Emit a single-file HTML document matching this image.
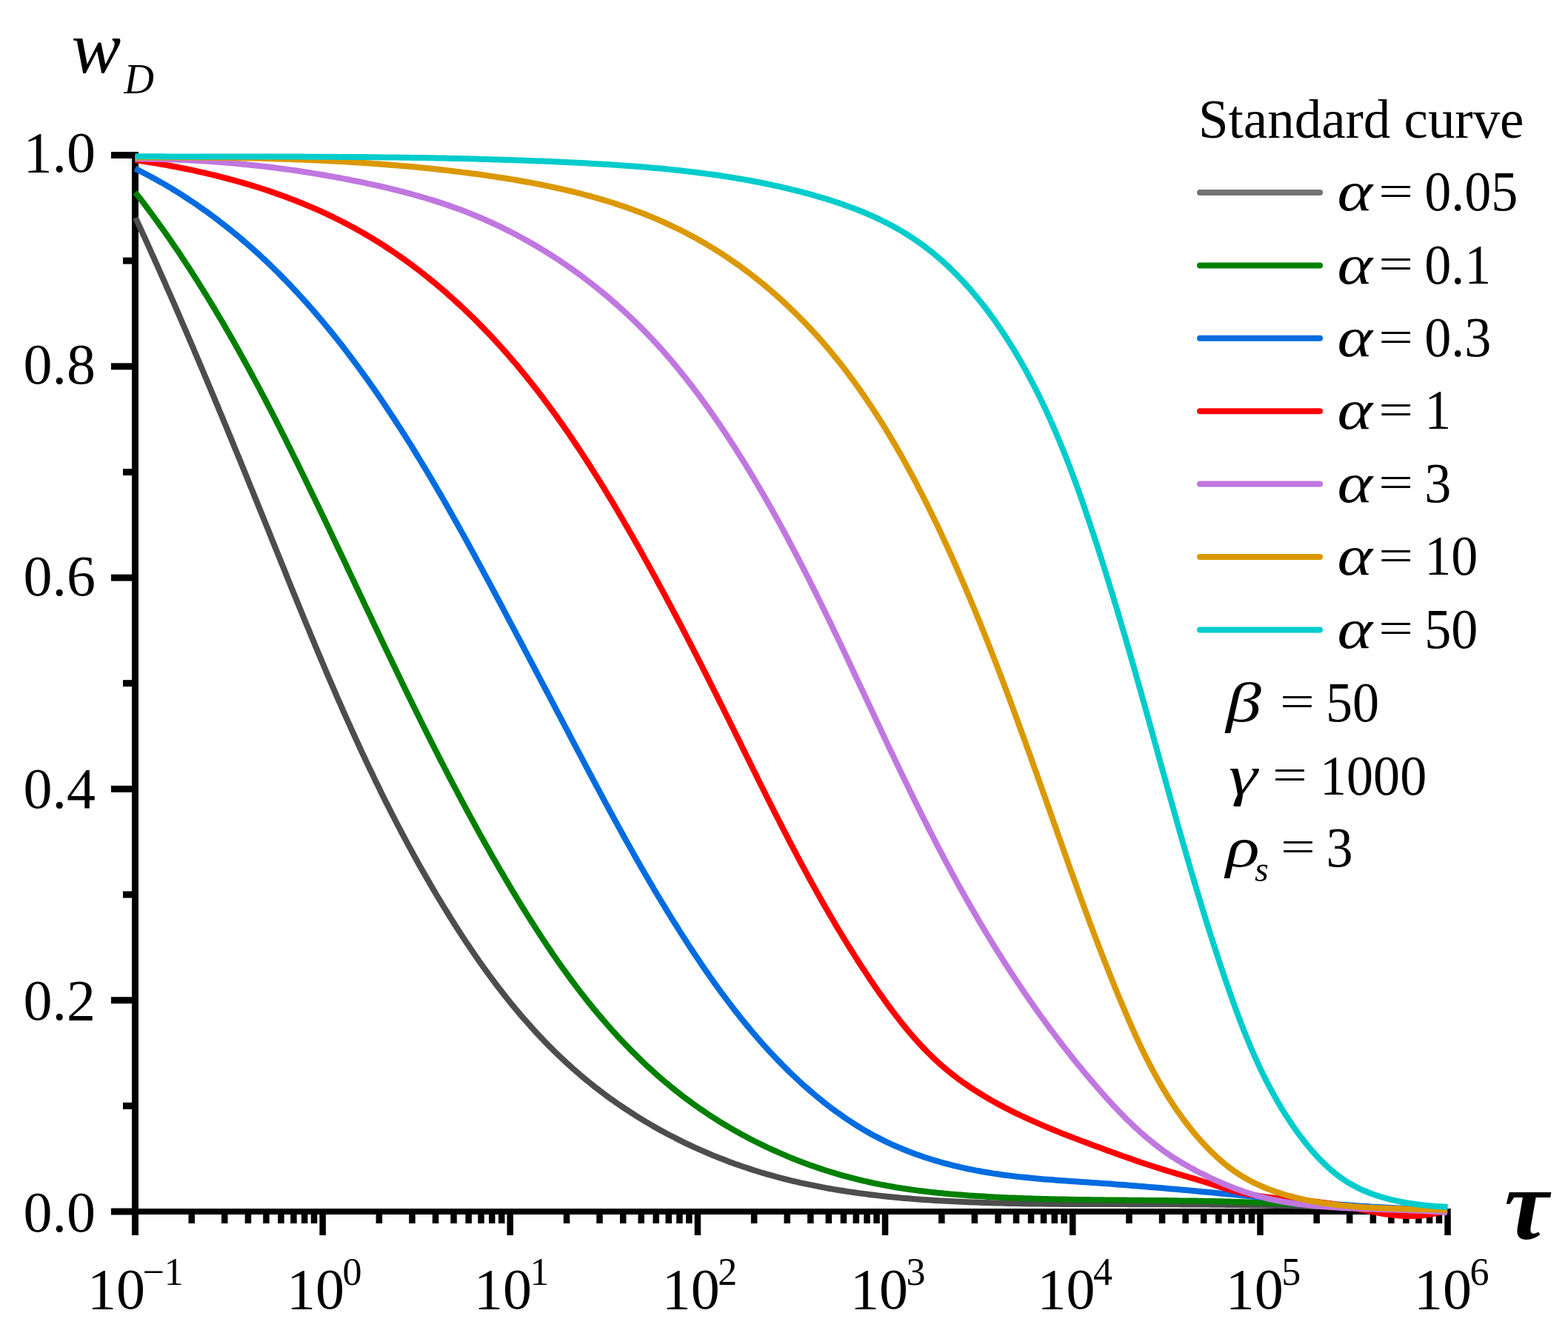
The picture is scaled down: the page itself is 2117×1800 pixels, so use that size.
<!DOCTYPE html>
<html><head><meta charset="utf-8"><title>Standard curve</title>
<style>
html,body{margin:0;padding:0;background:#fff;}
body{width:2117px;height:1800px;overflow:hidden;}
svg{display:block;}
text{font-family:"Liberation Serif","Times New Roman",serif;fill:#000;}
.it{font-style:italic;}
</style></head><body>
<svg xmlns="http://www.w3.org/2000/svg" width="2117" height="1800" viewBox="0 0 2117 1800">
<rect width="2117" height="1800" fill="#fff"/>
<g fill="#000">
<rect x="178" y="205" width="9" height="1463"/>
<rect x="150" y="1632" width="1808.7" height="8"/>
<rect x="150" y="1631.5" width="28" height="9"/>
<rect x="166" y="1488.8" width="12" height="9"/>
<rect x="150" y="1346.2" width="28" height="9"/>
<rect x="166" y="1203.5" width="12" height="9"/>
<rect x="150" y="1060.9" width="28" height="9"/>
<rect x="166" y="918.2" width="12" height="9"/>
<rect x="150" y="775.6" width="28" height="9"/>
<rect x="166" y="633.0" width="12" height="9"/>
<rect x="150" y="490.3" width="28" height="9"/>
<rect x="166" y="347.6" width="12" height="9"/>
<rect x="150" y="205.0" width="28" height="9"/>
<rect x="178.2" y="1640" width="8.5" height="28"/>
<rect x="254.5" y="1640" width="8.5" height="12"/>
<rect x="299.0" y="1640" width="8.5" height="12"/>
<rect x="330.7" y="1640" width="8.5" height="12"/>
<rect x="355.2" y="1640" width="8.5" height="12"/>
<rect x="375.2" y="1640" width="8.5" height="12"/>
<rect x="392.2" y="1640" width="8.5" height="12"/>
<rect x="406.9" y="1640" width="8.5" height="12"/>
<rect x="419.8" y="1640" width="8.5" height="12"/>
<rect x="431.4" y="1640" width="8.5" height="28"/>
<rect x="507.6" y="1640" width="8.5" height="12"/>
<rect x="552.2" y="1640" width="8.5" height="12"/>
<rect x="583.8" y="1640" width="8.5" height="12"/>
<rect x="608.3" y="1640" width="8.5" height="12"/>
<rect x="628.4" y="1640" width="8.5" height="12"/>
<rect x="645.3" y="1640" width="8.5" height="12"/>
<rect x="660.0" y="1640" width="8.5" height="12"/>
<rect x="673.0" y="1640" width="8.5" height="12"/>
<rect x="684.5" y="1640" width="8.5" height="28"/>
<rect x="760.8" y="1640" width="8.5" height="12"/>
<rect x="805.3" y="1640" width="8.5" height="12"/>
<rect x="837.0" y="1640" width="8.5" height="12"/>
<rect x="861.5" y="1640" width="8.5" height="12"/>
<rect x="881.5" y="1640" width="8.5" height="12"/>
<rect x="898.5" y="1640" width="8.5" height="12"/>
<rect x="913.2" y="1640" width="8.5" height="12"/>
<rect x="926.1" y="1640" width="8.5" height="12"/>
<rect x="937.7" y="1640" width="8.5" height="28"/>
<rect x="1013.9" y="1640" width="8.5" height="12"/>
<rect x="1058.5" y="1640" width="8.5" height="12"/>
<rect x="1090.1" y="1640" width="8.5" height="12"/>
<rect x="1114.6" y="1640" width="8.5" height="12"/>
<rect x="1134.7" y="1640" width="8.5" height="12"/>
<rect x="1151.6" y="1640" width="8.5" height="12"/>
<rect x="1166.3" y="1640" width="8.5" height="12"/>
<rect x="1179.3" y="1640" width="8.5" height="12"/>
<rect x="1190.8" y="1640" width="8.5" height="28"/>
<rect x="1267.1" y="1640" width="8.5" height="12"/>
<rect x="1311.6" y="1640" width="8.5" height="12"/>
<rect x="1343.3" y="1640" width="8.5" height="12"/>
<rect x="1367.8" y="1640" width="8.5" height="12"/>
<rect x="1387.8" y="1640" width="8.5" height="12"/>
<rect x="1404.8" y="1640" width="8.5" height="12"/>
<rect x="1419.5" y="1640" width="8.5" height="12"/>
<rect x="1432.4" y="1640" width="8.5" height="12"/>
<rect x="1444.0" y="1640" width="8.5" height="28"/>
<rect x="1520.2" y="1640" width="8.5" height="12"/>
<rect x="1564.8" y="1640" width="8.5" height="12"/>
<rect x="1596.4" y="1640" width="8.5" height="12"/>
<rect x="1620.9" y="1640" width="8.5" height="12"/>
<rect x="1641.0" y="1640" width="8.5" height="12"/>
<rect x="1657.9" y="1640" width="8.5" height="12"/>
<rect x="1672.6" y="1640" width="8.5" height="12"/>
<rect x="1685.6" y="1640" width="8.5" height="12"/>
<rect x="1697.2" y="1640" width="8.5" height="28"/>
<rect x="1773.4" y="1640" width="8.5" height="12"/>
<rect x="1817.9" y="1640" width="8.5" height="12"/>
<rect x="1849.6" y="1640" width="8.5" height="12"/>
<rect x="1874.1" y="1640" width="8.5" height="12"/>
<rect x="1894.1" y="1640" width="8.5" height="12"/>
<rect x="1911.1" y="1640" width="8.5" height="12"/>
<rect x="1925.8" y="1640" width="8.5" height="12"/>
<rect x="1938.7" y="1640" width="8.5" height="12"/>
<rect x="1950.3" y="1640" width="8.5" height="28"/>
</g>
<g fill="none" stroke-width="8" stroke-linejoin="round" stroke-linecap="butt">
<path stroke="#4d4d4d" d="M183.0,294.0 L185.1,298.6 L187.2,303.2 L189.3,307.7 L191.4,312.3 L193.5,316.9 L195.6,321.5 L197.7,326.2 L199.8,330.8 L201.9,335.4 L203.9,340.0 L206.0,344.6 L208.1,349.2 L210.1,353.8 L212.2,358.4 L214.3,363.0 L216.3,367.7 L218.4,372.3 L220.4,376.9 L222.5,381.5 L224.5,386.2 L226.5,390.8 L228.6,395.4 L230.6,400.0 L232.6,404.7 L234.7,409.3 L236.7,413.9 L238.7,418.6 L240.7,423.2 L242.7,427.8 L244.7,432.5 L246.7,437.1 L248.7,441.8 L250.7,446.4 L252.7,451.0 L254.7,455.7 L256.7,460.3 L258.7,465.0 L260.7,469.6 L262.6,474.3 L264.6,478.9 L266.6,483.6 L268.6,488.2 L270.5,492.9 L272.5,497.5 L274.5,502.2 L276.4,506.9 L278.4,511.5 L280.3,516.2 L282.3,520.8 L284.3,525.5 L286.2,530.2 L288.2,534.8 L290.1,539.5 L292.0,544.2 L294.0,548.8 L295.9,553.5 L297.9,558.2 L299.8,562.8 L301.7,567.5 L303.7,572.2 L305.6,576.8 L307.5,581.5 L309.4,586.2 L311.4,590.9 L313.3,595.5 L315.2,600.2 L317.1,604.9 L319.0,609.6 L320.9,614.2 L322.9,618.9 L324.8,623.6 L326.7,628.3 L328.6,633.0 L330.5,637.6 L332.4,642.3 L334.3,647.0 L336.2,651.7 L338.1,656.4 L340.0,661.0 L341.9,665.7 L343.8,670.4 L345.7,675.1 L347.6,679.8 L349.5,684.5 L351.4,689.1 L353.3,693.8 L355.2,698.5 L357.1,703.2 L359.0,707.9 L360.9,712.6 L362.8,717.3 L364.7,722.0 L366.5,726.6 L368.4,731.3 L370.3,736.0 L372.2,740.7 L374.1,745.4 L376.0,750.1 L377.9,754.8 L379.8,759.5 L381.7,764.2 L383.6,768.8 L385.5,773.5 L387.3,778.2 L389.2,782.9 L391.1,787.6 L393.0,792.3 L394.9,797.0 L396.8,801.6 L398.7,806.3 L400.6,811.0 L402.6,815.7 L404.5,820.4 L406.4,825.0 L408.3,829.7 L410.2,834.4 L412.1,839.1 L414.0,843.7 L416.0,848.4 L417.9,853.1 L419.8,857.8 L421.8,862.4 L423.7,867.1 L425.6,871.8 L427.6,876.4 L429.5,881.1 L431.5,885.7 L433.5,890.4 L435.4,895.0 L437.4,899.7 L439.4,904.4 L441.3,909.0 L443.3,913.6 L445.3,918.3 L447.3,922.9 L449.3,927.6 L451.3,932.2 L453.3,936.8 L455.3,941.5 L457.3,946.1 L459.4,950.7 L461.4,955.4 L463.4,960.0 L465.5,964.6 L467.5,969.2 L469.6,973.8 L471.7,978.4 L473.7,983.0 L475.8,987.6 L477.9,992.2 L480.0,996.8 L482.1,1001.4 L484.2,1006.0 L486.3,1010.6 L488.4,1015.2 L490.6,1019.8 L492.7,1024.3 L494.9,1028.9 L497.0,1033.5 L499.2,1038.0 L501.4,1042.6 L503.6,1047.1 L505.7,1051.7 L507.9,1056.2 L510.2,1060.8 L512.4,1065.3 L514.6,1069.9 L516.8,1074.4 L519.1,1078.9 L521.3,1083.4 L523.6,1087.9 L525.9,1092.5 L528.2,1097.0 L530.5,1101.5 L532.8,1106.0 L535.1,1110.5 L537.4,1114.9 L539.8,1119.4 L542.1,1123.9 L544.5,1128.4 L546.9,1132.8 L549.3,1137.3 L551.7,1141.8 L554.1,1146.2 L556.5,1150.7 L558.9,1155.1 L561.4,1159.5 L563.8,1164.0 L566.3,1168.4 L568.8,1172.8 L571.3,1177.2 L573.8,1181.6 L576.3,1186.0 L578.9,1190.4 L581.4,1194.8 L584.0,1199.2 L586.6,1203.6 L589.1,1207.9 L591.7,1212.3 L594.4,1216.7 L597.0,1221.0 L599.6,1225.3 L602.3,1229.7 L605.0,1234.0 L607.7,1238.3 L610.4,1242.7 L613.1,1247.0 L615.8,1251.3 L618.6,1255.5 L621.3,1259.8 L624.1,1264.1 L626.9,1268.4 L629.7,1272.6 L632.6,1276.8 L635.4,1281.1 L638.3,1285.3 L641.2,1289.5 L644.1,1293.7 L647.0,1297.9 L649.9,1302.0 L652.9,1306.2 L655.8,1310.3 L658.8,1314.4 L661.8,1318.5 L664.9,1322.6 L667.9,1326.7 L671.0,1330.7 L674.1,1334.8 L677.2,1338.8 L680.3,1342.8 L683.4,1346.8 L686.6,1350.7 L689.8,1354.7 L693.0,1358.6 L696.2,1362.5 L699.5,1366.4 L702.8,1370.3 L706.0,1374.1 L709.4,1377.9 L712.7,1381.7 L716.1,1385.5 L719.4,1389.2 L722.8,1393.0 L726.3,1396.7 L729.7,1400.4 L733.2,1404.0 L736.7,1407.7 L740.2,1411.3 L743.8,1414.8 L747.3,1418.4 L750.9,1421.9 L754.6,1425.4 L758.2,1428.9 L761.9,1432.3 L765.6,1435.8 L769.3,1439.1 L773.0,1442.5 L776.8,1445.8 L780.6,1449.1 L784.4,1452.4 L788.3,1455.6 L792.2,1458.8 L796.1,1462.0 L800.0,1465.2 L803.9,1468.3 L807.9,1471.3 L811.9,1474.4 L815.9,1477.4 L820.0,1480.4 L824.1,1483.4 L828.2,1486.3 L832.3,1489.2 L836.4,1492.0 L840.6,1494.9 L844.8,1497.7 L849.0,1500.4 L853.2,1503.2 L857.5,1505.9 L861.7,1508.6 L866.0,1511.2 L870.3,1513.8 L874.7,1516.4 L879.0,1518.9 L883.4,1521.4 L887.8,1523.9 L892.2,1526.4 L896.6,1528.8 L901.0,1531.2 L905.5,1533.5 L910.0,1535.8 L914.5,1538.1 L919.0,1540.4 L923.5,1542.6 L928.1,1544.8 L932.6,1546.9 L937.2,1549.1 L941.8,1551.1 L946.4,1553.2 L951.0,1555.2 L955.7,1557.2 L960.3,1559.2 L965.0,1561.1 L969.7,1563.0 L974.4,1564.8 L979.1,1566.6 L983.8,1568.4 L988.5,1570.2 L993.3,1571.9 L998.1,1573.6 L1002.8,1575.2 L1007.6,1576.8 L1012.4,1578.4 L1017.2,1580.0 L1022.0,1581.5 L1026.8,1583.0 L1031.7,1584.4 L1036.5,1585.8 L1041.4,1587.2 L1046.2,1588.5 L1051.1,1589.9 L1056.0,1591.1 L1060.9,1592.4 L1065.8,1593.6 L1070.7,1594.8 L1075.6,1595.9 L1080.5,1597.1 L1085.4,1598.1 L1090.4,1599.2 L1095.3,1600.2 L1100.3,1601.2 L1105.2,1602.2 L1110.2,1603.2 L1115.2,1604.1 L1120.2,1605.0 L1125.1,1605.9 L1130.1,1606.7 L1135.1,1607.5 L1140.1,1608.3 L1145.2,1609.1 L1150.2,1609.8 L1155.2,1610.5 L1160.2,1611.2 L1165.2,1611.9 L1170.3,1612.5 L1175.3,1613.2 L1180.4,1613.8 L1185.4,1614.4 L1190.5,1614.9 L1195.5,1615.5 L1200.6,1616.0 L1205.6,1616.5 L1210.7,1617.0 L1215.8,1617.5 L1220.8,1617.9 L1225.9,1618.3 L1231.0,1618.8 L1236.1,1619.2 L1241.1,1619.5 L1246.2,1619.9 L1251.3,1620.2 L1256.4,1620.6 L1261.5,1620.9 L1266.6,1621.2 L1271.6,1621.5 L1276.7,1621.8 L1281.8,1622.0 L1286.9,1622.3 L1292.0,1622.5 L1297.1,1622.8 L1302.2,1623.0 L1307.3,1623.2 L1312.3,1623.4 L1317.4,1623.6 L1322.5,1623.8 L1327.6,1623.9 L1332.7,1624.1 L1337.8,1624.2 L1342.8,1624.4 L1347.9,1624.5 L1353.0,1624.6 L1358.1,1624.8 L1363.1,1624.9 L1368.2,1625.0 L1373.3,1625.1 L1378.3,1625.2 L1383.4,1625.3 L1388.5,1625.4 L1393.5,1625.4 L1398.6,1625.5 L1403.7,1625.6 L1408.7,1625.6 L1413.8,1625.7 L1418.8,1625.7 L1423.9,1625.8 L1429.0,1625.8 L1434.0,1625.9 L1439.1,1625.9 L1444.1,1625.9 L1449.2,1626.0 L1454.2,1626.0 L1459.3,1626.0 L1464.3,1626.0 L1469.4,1626.1 L1474.4,1626.1 L1479.5,1626.1 L1484.5,1626.1 L1489.6,1626.1 L1494.6,1626.1 L1499.7,1626.1 L1504.7,1626.1 L1509.8,1626.1 L1514.8,1626.1 L1519.8,1626.1 L1524.9,1626.2 L1529.9,1626.2 L1535.0,1626.2 L1540.0,1626.2 L1545.0,1626.2 L1550.1,1626.2 L1555.1,1626.2 L1560.2,1626.2 L1565.2,1626.2 L1570.2,1626.2 L1575.3,1626.3 L1580.3,1626.3 L1585.4,1626.3 L1590.4,1626.3 L1595.4,1626.4 L1600.5,1626.4 L1605.5,1626.4 L1610.6,1626.5 L1615.6,1626.5 L1620.6,1626.5 L1625.7,1626.6 L1630.7,1626.6 L1635.8,1626.7 L1640.8,1626.7 L1645.8,1626.8 L1650.9,1626.8 L1655.9,1626.9 L1660.9,1627.0 L1666.0,1627.0 L1671.0,1627.1 L1676.1,1627.2 L1681.1,1627.2 L1686.1,1627.3 L1691.2,1627.4 L1696.2,1627.5 L1701.3,1627.5 L1706.3,1627.6 L1711.3,1627.7 L1716.4,1627.8 L1721.4,1627.9 L1726.5,1628.0 L1731.5,1628.1 L1736.6,1628.2 L1741.6,1628.3 L1746.6,1628.4 L1751.7,1628.5 L1756.7,1628.6 L1761.8,1628.7 L1766.8,1628.8 L1771.9,1628.9 L1776.9,1629.0 L1782.0,1629.1 L1787.0,1629.3 L1792.1,1629.4 L1797.1,1629.5 L1802.2,1629.6 L1807.2,1629.7 L1812.3,1629.9 L1817.3,1630.0 L1822.4,1630.1 L1827.4,1630.3 L1832.5,1630.4 L1837.5,1630.5 L1842.6,1630.7 L1847.6,1630.8 L1852.7,1631.0 L1857.8,1631.1 L1862.8,1631.3 L1867.9,1631.4 L1872.9,1631.6 L1878.0,1631.7 L1883.1,1631.9 L1888.1,1632.0 L1893.2,1632.2 L1898.3,1632.4 L1903.3,1632.5 L1908.4,1632.7 L1913.5,1632.9 L1918.5,1633.0 L1923.6,1633.2 L1928.7,1633.4 L1933.8,1633.5 L1938.8,1633.7 L1943.9,1633.9 L1949.0,1634.1 L1954.1,1634.2"/>
<path stroke="#008000" d="M182.5,259.5 L185.6,263.4 L188.7,267.4 L191.7,271.4 L194.7,275.4 L197.7,279.4 L200.7,283.4 L203.7,287.4 L206.7,291.5 L209.6,295.5 L212.6,299.6 L215.5,303.7 L218.4,307.7 L221.3,311.8 L224.2,315.9 L227.1,320.0 L229.9,324.1 L232.7,328.2 L235.6,332.4 L238.4,336.5 L241.2,340.6 L244.0,344.8 L246.7,349.0 L249.5,353.1 L252.2,357.3 L255.0,361.5 L257.7,365.7 L260.4,369.9 L263.1,374.1 L265.8,378.3 L268.4,382.5 L271.1,386.8 L273.7,391.0 L276.4,395.3 L279.0,399.5 L281.6,403.8 L284.2,408.1 L286.8,412.3 L289.4,416.6 L291.9,420.9 L294.5,425.2 L297.0,429.5 L299.6,433.8 L302.1,438.1 L304.6,442.5 L307.1,446.8 L309.6,451.1 L312.1,455.5 L314.6,459.8 L317.1,464.2 L319.5,468.5 L322.0,472.9 L324.4,477.2 L326.8,481.6 L329.2,486.0 L331.7,490.4 L334.1,494.8 L336.5,499.2 L338.8,503.6 L341.2,508.0 L343.6,512.4 L346.0,516.8 L348.3,521.2 L350.7,525.6 L353.0,530.1 L355.3,534.5 L357.7,538.9 L360.0,543.4 L362.3,547.8 L364.6,552.3 L366.9,556.7 L369.2,561.2 L371.5,565.6 L373.7,570.1 L376.0,574.5 L378.3,579.0 L380.5,583.5 L382.8,588.0 L385.1,592.4 L387.3,596.9 L389.5,601.4 L391.8,605.9 L394.0,610.4 L396.2,614.9 L398.4,619.4 L400.7,623.9 L402.9,628.4 L405.1,632.9 L407.3,637.4 L409.5,641.9 L411.7,646.4 L413.9,650.9 L416.0,655.4 L418.2,659.9 L420.4,664.4 L422.6,668.9 L424.7,673.4 L426.9,677.9 L429.1,682.5 L431.2,687.0 L433.4,691.5 L435.6,696.0 L437.7,700.5 L439.9,705.1 L442.0,709.6 L444.2,714.1 L446.3,718.6 L448.5,723.1 L450.6,727.7 L452.8,732.2 L454.9,736.7 L457.0,741.2 L459.2,745.8 L461.3,750.3 L463.5,754.8 L465.6,759.3 L467.7,763.8 L469.9,768.4 L472.0,772.9 L474.1,777.4 L476.3,781.9 L478.4,786.5 L480.5,791.0 L482.7,795.5 L484.8,800.0 L486.9,804.5 L489.1,809.1 L491.2,813.6 L493.3,818.1 L495.5,822.6 L497.6,827.1 L499.8,831.6 L501.9,836.2 L504.0,840.7 L506.2,845.2 L508.3,849.7 L510.5,854.2 L512.6,858.7 L514.7,863.2 L516.9,867.7 L519.0,872.3 L521.2,876.8 L523.4,881.3 L525.5,885.8 L527.7,890.3 L529.8,894.8 L532.0,899.3 L534.2,903.8 L536.3,908.3 L538.5,912.8 L540.7,917.3 L542.8,921.8 L545.0,926.3 L547.2,930.7 L549.4,935.2 L551.6,939.7 L553.8,944.2 L556.0,948.7 L558.2,953.2 L560.4,957.7 L562.6,962.1 L564.8,966.6 L567.0,971.1 L569.2,975.6 L571.4,980.0 L573.7,984.5 L575.9,989.0 L578.1,993.4 L580.4,997.9 L582.6,1002.4 L584.9,1006.8 L587.1,1011.3 L589.4,1015.7 L591.7,1020.2 L593.9,1024.6 L596.2,1029.1 L598.5,1033.5 L600.8,1038.0 L603.1,1042.4 L605.4,1046.9 L607.7,1051.3 L610.0,1055.7 L612.3,1060.2 L614.7,1064.6 L617.0,1069.0 L619.3,1073.4 L621.7,1077.9 L624.0,1082.3 L626.4,1086.7 L628.7,1091.1 L631.1,1095.5 L633.5,1099.9 L635.9,1104.3 L638.3,1108.7 L640.7,1113.1 L643.1,1117.5 L645.5,1121.9 L647.9,1126.3 L650.4,1130.7 L652.8,1135.0 L655.3,1139.4 L657.7,1143.8 L660.2,1148.1 L662.6,1152.5 L665.1,1156.9 L667.6,1161.2 L670.1,1165.6 L672.6,1169.9 L675.1,1174.3 L677.7,1178.6 L680.2,1183.0 L682.7,1187.3 L685.3,1191.6 L687.9,1196.0 L690.4,1200.3 L693.0,1204.6 L695.6,1208.9 L698.2,1213.2 L700.8,1217.5 L703.5,1221.8 L706.1,1226.1 L708.8,1230.4 L711.4,1234.7 L714.1,1238.9 L716.8,1243.2 L719.5,1247.4 L722.2,1251.7 L724.9,1255.9 L727.7,1260.1 L730.4,1264.4 L733.2,1268.6 L736.0,1272.7 L738.7,1276.9 L741.6,1281.1 L744.4,1285.3 L747.2,1289.4 L750.1,1293.5 L752.9,1297.7 L755.8,1301.8 L758.7,1305.9 L761.7,1309.9 L764.6,1314.0 L767.6,1318.1 L770.5,1322.1 L773.5,1326.1 L776.5,1330.1 L779.5,1334.1 L782.6,1338.1 L785.6,1342.1 L788.7,1346.0 L791.8,1349.9 L794.9,1353.9 L798.1,1357.8 L801.2,1361.6 L804.4,1365.5 L807.6,1369.3 L810.8,1373.1 L814.1,1376.9 L817.3,1380.7 L820.6,1384.5 L823.9,1388.2 L827.2,1392.0 L830.6,1395.6 L833.9,1399.3 L837.3,1403.0 L840.7,1406.6 L844.2,1410.2 L847.6,1413.8 L851.1,1417.4 L854.6,1420.9 L858.2,1424.4 L861.7,1427.9 L865.3,1431.4 L868.9,1434.9 L872.5,1438.3 L876.2,1441.7 L879.9,1445.0 L883.6,1448.4 L887.3,1451.7 L891.0,1455.0 L894.8,1458.3 L898.6,1461.5 L902.5,1464.7 L906.3,1467.9 L910.2,1471.0 L914.1,1474.1 L918.0,1477.2 L922.0,1480.3 L926.0,1483.3 L930.0,1486.3 L934.0,1489.2 L938.1,1492.2 L942.1,1495.0 L946.2,1497.9 L950.4,1500.7 L954.5,1503.5 L958.7,1506.3 L962.9,1509.0 L967.1,1511.7 L971.3,1514.3 L975.6,1517.0 L979.9,1519.5 L984.2,1522.1 L988.5,1524.6 L992.8,1527.1 L997.2,1529.5 L1001.6,1532.0 L1006.0,1534.3 L1010.4,1536.7 L1014.8,1539.0 L1019.3,1541.3 L1023.8,1543.5 L1028.3,1545.7 L1032.8,1547.9 L1037.3,1550.0 L1041.8,1552.1 L1046.4,1554.2 L1051.0,1556.2 L1055.6,1558.2 L1060.2,1560.2 L1064.8,1562.1 L1069.4,1564.0 L1074.1,1565.9 L1078.8,1567.7 L1083.4,1569.5 L1088.1,1571.2 L1092.8,1573.0 L1097.6,1574.6 L1102.3,1576.3 L1107.0,1577.9 L1111.8,1579.5 L1116.6,1581.0 L1121.4,1582.5 L1126.1,1583.9 L1130.9,1585.4 L1135.8,1586.8 L1140.6,1588.1 L1145.4,1589.4 L1150.3,1590.7 L1155.1,1591.9 L1160.0,1593.1 L1164.9,1594.3 L1169.7,1595.4 L1174.6,1596.5 L1179.5,1597.6 L1184.4,1598.6 L1189.3,1599.6 L1194.2,1600.5 L1199.2,1601.4 L1204.1,1602.3 L1209.0,1603.2 L1214.0,1604.0 L1218.9,1604.8 L1223.9,1605.5 L1228.8,1606.2 L1233.8,1606.9 L1238.8,1607.6 L1243.7,1608.2 L1248.7,1608.8 L1253.7,1609.4 L1258.7,1610.0 L1263.6,1610.5 L1268.6,1611.0 L1273.6,1611.5 L1278.6,1612.0 L1283.6,1612.4 L1288.6,1612.8 L1293.6,1613.2 L1298.6,1613.6 L1303.6,1614.0 L1308.6,1614.4 L1313.6,1614.7 L1318.7,1615.0 L1323.7,1615.3 L1328.7,1615.6 L1333.7,1615.9 L1338.7,1616.2 L1343.7,1616.5 L1348.7,1616.7 L1353.7,1616.9 L1358.7,1617.2 L1363.7,1617.4 L1368.7,1617.6 L1373.7,1617.8 L1378.8,1618.0 L1383.8,1618.2 L1388.8,1618.3 L1393.8,1618.5 L1398.8,1618.7 L1403.8,1618.8 L1408.8,1618.9 L1413.8,1619.1 L1418.8,1619.2 L1423.8,1619.3 L1428.8,1619.4 L1433.8,1619.5 L1438.8,1619.6 L1443.8,1619.7 L1448.8,1619.8 L1453.9,1619.9 L1458.9,1620.0 L1463.9,1620.0 L1468.9,1620.1 L1473.9,1620.2 L1478.9,1620.2 L1483.9,1620.3 L1488.9,1620.3 L1493.9,1620.4 L1498.9,1620.5 L1503.9,1620.5 L1508.9,1620.5 L1513.9,1620.6 L1518.9,1620.6 L1523.9,1620.7 L1528.9,1620.7 L1533.9,1620.8 L1538.9,1620.8 L1543.9,1620.8 L1548.9,1620.9 L1553.9,1620.9 L1559.0,1621.0 L1564.0,1621.0 L1569.0,1621.1 L1574.0,1621.1 L1579.0,1621.2 L1584.0,1621.2 L1589.0,1621.3 L1594.0,1621.4 L1599.0,1621.4 L1604.0,1621.5 L1609.0,1621.6 L1614.0,1621.6 L1619.0,1621.7 L1624.0,1621.8 L1629.0,1621.9 L1634.0,1622.0 L1639.0,1622.1 L1644.0,1622.2 L1649.0,1622.3 L1654.0,1622.5 L1659.0,1622.6 L1664.0,1622.7 L1669.0,1622.9 L1674.0,1623.0 L1679.0,1623.2 L1684.0,1623.4 L1689.0,1623.5 L1694.0,1623.7 L1699.0,1623.9 L1704.0,1624.1 L1709.0,1624.3 L1714.0,1624.5 L1719.0,1624.7 L1724.0,1624.9 L1728.9,1625.2 L1733.9,1625.4 L1738.9,1625.6 L1743.9,1625.9 L1748.9,1626.1 L1753.9,1626.3 L1758.9,1626.6 L1763.9,1626.8 L1768.9,1627.0 L1773.9,1627.3 L1778.9,1627.5 L1783.9,1627.8 L1788.9,1628.0 L1793.9,1628.3 L1798.9,1628.5 L1803.9,1628.8 L1808.9,1629.0 L1813.9,1629.2 L1818.9,1629.5 L1823.9,1629.7 L1828.9,1629.9 L1833.9,1630.2 L1838.9,1630.4 L1843.9,1630.6 L1848.9,1630.8 L1853.9,1631.0 L1858.9,1631.2 L1863.9,1631.4 L1868.9,1631.6 L1873.9,1631.8 L1878.9,1632.0 L1883.9,1632.2 L1888.9,1632.3 L1893.9,1632.5 L1898.9,1632.6 L1903.9,1632.8 L1908.9,1632.9 L1913.9,1633.0 L1918.9,1633.2 L1924.0,1633.3 L1929.0,1633.4 L1934.0,1633.4 L1939.0,1633.5 L1944.0,1633.6 L1949.0,1633.6 L1954.0,1633.7"/>
<path stroke="#006ce0" d="M182.5,227.7 L187.0,229.9 L191.5,232.2 L195.9,234.5 L200.3,236.8 L204.7,239.2 L209.1,241.6 L213.4,244.0 L217.8,246.4 L222.1,248.9 L226.3,251.4 L230.6,253.9 L234.8,256.5 L239.0,259.1 L243.2,261.7 L247.4,264.4 L251.5,267.1 L255.6,269.8 L259.7,272.5 L263.8,275.3 L267.9,278.0 L271.9,280.9 L275.9,283.7 L279.9,286.6 L283.9,289.5 L287.8,292.4 L291.7,295.3 L295.6,298.3 L299.5,301.3 L303.4,304.3 L307.2,307.3 L311.0,310.4 L314.8,313.5 L318.6,316.6 L322.4,319.7 L326.1,322.9 L329.8,326.1 L333.5,329.3 L337.2,332.5 L340.9,335.8 L344.5,339.0 L348.1,342.3 L351.8,345.6 L355.3,349.0 L358.9,352.3 L362.5,355.7 L366.0,359.1 L369.5,362.5 L373.0,366.0 L376.5,369.4 L379.9,372.9 L383.3,376.4 L386.8,379.9 L390.2,383.4 L393.6,387.0 L396.9,390.6 L400.3,394.1 L403.6,397.7 L406.9,401.4 L410.2,405.0 L413.5,408.7 L416.8,412.3 L420.0,416.0 L423.2,419.7 L426.5,423.4 L429.6,427.2 L432.8,430.9 L436.0,434.7 L439.1,438.5 L442.3,442.3 L445.4,446.1 L448.5,449.9 L451.6,453.8 L454.7,457.6 L457.7,461.5 L460.8,465.3 L463.8,469.2 L466.8,473.1 L469.8,477.1 L472.8,481.0 L475.7,484.9 L478.7,488.9 L481.6,492.8 L484.6,496.8 L487.5,500.8 L490.4,504.8 L493.3,508.8 L496.1,512.8 L499.0,516.8 L501.8,520.9 L504.7,524.9 L507.5,529.0 L510.3,533.0 L513.1,537.1 L515.8,541.2 L518.6,545.3 L521.4,549.4 L524.1,553.5 L526.8,557.6 L529.5,561.7 L532.2,565.8 L534.9,570.0 L537.6,574.1 L540.3,578.2 L542.9,582.4 L545.6,586.5 L548.2,590.7 L550.8,594.9 L553.5,599.0 L556.1,603.2 L558.6,607.4 L561.2,611.6 L563.8,615.8 L566.4,620.0 L568.9,624.2 L571.4,628.4 L574.0,632.6 L576.5,636.8 L579.0,641.0 L581.5,645.2 L584.0,649.4 L586.5,653.7 L589.0,657.9 L591.4,662.2 L593.9,666.4 L596.4,670.6 L598.8,674.9 L601.2,679.1 L603.7,683.4 L606.1,687.7 L608.5,691.9 L610.9,696.2 L613.3,700.5 L615.7,704.8 L618.1,709.0 L620.5,713.3 L622.9,717.6 L625.3,721.9 L627.6,726.2 L630.0,730.5 L632.4,734.8 L634.7,739.1 L637.1,743.4 L639.4,747.7 L641.8,752.0 L644.1,756.3 L646.4,760.6 L648.8,764.9 L651.1,769.2 L653.4,773.6 L655.7,777.9 L658.0,782.2 L660.4,786.5 L662.7,790.9 L665.0,795.2 L667.3,799.5 L669.6,803.9 L671.9,808.2 L674.2,812.5 L676.5,816.9 L678.8,821.2 L681.1,825.6 L683.4,829.9 L685.7,834.3 L688.0,838.6 L690.3,842.9 L692.6,847.3 L694.9,851.6 L697.2,856.0 L699.5,860.3 L701.8,864.7 L704.1,869.0 L706.4,873.4 L708.7,877.8 L711.0,882.1 L713.3,886.5 L715.6,890.8 L717.8,895.2 L720.1,899.5 L722.4,903.9 L724.7,908.2 L727.0,912.6 L729.3,917.0 L731.6,921.3 L733.9,925.7 L736.2,930.0 L738.5,934.4 L740.8,938.7 L743.1,943.1 L745.4,947.5 L747.7,951.8 L749.9,956.2 L752.2,960.5 L754.5,964.9 L756.8,969.2 L759.1,973.6 L761.4,978.0 L763.7,982.3 L766.0,986.7 L768.3,991.0 L770.5,995.4 L772.8,999.7 L775.1,1004.1 L777.4,1008.4 L779.7,1012.8 L782.0,1017.1 L784.3,1021.5 L786.6,1025.8 L788.8,1030.2 L791.1,1034.5 L793.4,1038.8 L795.7,1043.2 L798.0,1047.5 L800.3,1051.8 L802.6,1056.2 L804.9,1060.5 L807.3,1064.8 L809.6,1069.2 L811.9,1073.5 L814.2,1077.8 L816.5,1082.1 L818.8,1086.5 L821.2,1090.8 L823.5,1095.1 L825.8,1099.4 L828.2,1103.7 L830.5,1108.0 L832.9,1112.3 L835.2,1116.6 L837.6,1120.9 L840.0,1125.2 L842.3,1129.5 L844.7,1133.8 L847.1,1138.1 L849.5,1142.3 L851.9,1146.6 L854.3,1150.9 L856.7,1155.2 L859.1,1159.4 L861.6,1163.7 L864.0,1167.9 L866.4,1172.2 L868.9,1176.4 L871.3,1180.7 L873.8,1184.9 L876.3,1189.2 L878.8,1193.4 L881.2,1197.6 L883.7,1201.9 L886.2,1206.1 L888.8,1210.3 L891.3,1214.5 L893.8,1218.7 L896.4,1222.9 L898.9,1227.1 L901.5,1231.3 L904.1,1235.5 L906.6,1239.7 L909.2,1243.8 L911.9,1248.0 L914.5,1252.2 L917.1,1256.3 L919.7,1260.5 L922.4,1264.7 L925.1,1268.8 L927.7,1272.9 L930.4,1277.1 L933.1,1281.2 L935.8,1285.3 L938.6,1289.4 L941.3,1293.5 L944.1,1297.6 L946.8,1301.7 L949.6,1305.8 L952.4,1309.9 L955.2,1313.9 L958.0,1318.0 L960.9,1322.0 L963.7,1326.1 L966.6,1330.1 L969.5,1334.1 L972.4,1338.1 L975.3,1342.1 L978.3,1346.0 L981.2,1350.0 L984.2,1353.9 L987.2,1357.9 L990.2,1361.8 L993.2,1365.7 L996.3,1369.6 L999.3,1373.4 L1002.4,1377.3 L1005.5,1381.1 L1008.6,1384.9 L1011.8,1388.7 L1014.9,1392.5 L1018.1,1396.2 L1021.3,1400.0 L1024.5,1403.7 L1027.8,1407.4 L1031.1,1411.1 L1034.3,1414.7 L1037.7,1418.4 L1041.0,1422.0 L1044.4,1425.6 L1047.7,1429.1 L1051.1,1432.7 L1054.6,1436.2 L1058.0,1439.7 L1061.5,1443.1 L1065.0,1446.6 L1068.5,1450.0 L1072.1,1453.4 L1075.6,1456.7 L1079.2,1460.1 L1082.9,1463.4 L1086.5,1466.7 L1090.2,1469.9 L1093.9,1473.1 L1097.6,1476.3 L1101.4,1479.5 L1105.2,1482.6 L1109.0,1485.7 L1112.8,1488.8 L1116.7,1491.8 L1120.6,1494.8 L1124.5,1497.8 L1128.5,1500.7 L1132.5,1503.6 L1136.5,1506.4 L1140.5,1509.2 L1144.6,1512.0 L1148.7,1514.7 L1152.8,1517.4 L1156.9,1520.0 L1161.1,1522.6 L1165.3,1525.1 L1169.5,1527.6 L1173.8,1530.0 L1178.1,1532.4 L1182.4,1534.7 L1186.8,1536.9 L1191.1,1539.1 L1195.5,1541.3 L1200.0,1543.4 L1204.4,1545.5 L1208.9,1547.5 L1213.4,1549.4 L1217.9,1551.3 L1222.5,1553.2 L1227.0,1555.0 L1231.6,1556.7 L1236.2,1558.4 L1240.9,1560.1 L1245.5,1561.7 L1250.2,1563.2 L1254.9,1564.7 L1259.6,1566.2 L1264.3,1567.6 L1269.0,1569.0 L1273.8,1570.3 L1278.5,1571.6 L1283.3,1572.9 L1288.1,1574.1 L1292.9,1575.2 L1297.7,1576.3 L1302.5,1577.4 L1307.3,1578.5 L1312.2,1579.4 L1317.0,1580.4 L1321.9,1581.3 L1326.7,1582.2 L1331.6,1583.0 L1336.5,1583.8 L1341.3,1584.6 L1346.2,1585.3 L1351.1,1586.0 L1356.0,1586.7 L1360.9,1587.3 L1365.8,1587.9 L1370.7,1588.5 L1375.6,1589.1 L1380.5,1589.6 L1385.4,1590.1 L1390.3,1590.6 L1395.2,1591.1 L1400.1,1591.5 L1405.0,1591.9 L1409.9,1592.4 L1414.9,1592.8 L1419.8,1593.1 L1424.7,1593.5 L1429.6,1593.9 L1434.6,1594.2 L1439.5,1594.6 L1444.4,1594.9 L1449.3,1595.3 L1454.2,1595.6 L1459.2,1595.9 L1464.1,1596.2 L1469.0,1596.6 L1473.9,1596.9 L1478.8,1597.2 L1483.8,1597.6 L1488.7,1597.9 L1493.6,1598.3 L1498.5,1598.6 L1503.4,1599.0 L1508.3,1599.4 L1513.2,1599.7 L1518.1,1600.1 L1523.0,1600.5 L1527.9,1600.9 L1532.8,1601.3 L1537.7,1601.7 L1542.6,1602.0 L1547.5,1602.5 L1552.4,1602.9 L1557.3,1603.3 L1562.2,1603.7 L1567.0,1604.1 L1571.9,1604.5 L1576.8,1604.9 L1581.7,1605.4 L1586.6,1605.8 L1591.5,1606.2 L1596.4,1606.7 L1601.3,1607.1 L1606.1,1607.6 L1611.0,1608.0 L1615.9,1608.5 L1620.8,1608.9 L1625.7,1609.4 L1630.6,1609.8 L1635.5,1610.3 L1640.3,1610.8 L1645.2,1611.2 L1650.1,1611.7 L1655.0,1612.2 L1659.9,1612.6 L1664.8,1613.1 L1669.6,1613.6 L1674.5,1614.1 L1679.4,1614.6 L1684.3,1615.0 L1689.2,1615.5 L1694.1,1616.0 L1699.0,1616.5 L1703.9,1617.0 L1708.8,1617.4 L1713.7,1617.9 L1718.5,1618.4 L1723.4,1618.9 L1728.3,1619.4 L1733.2,1619.8 L1738.1,1620.3 L1743.0,1620.8 L1747.9,1621.2 L1752.8,1621.7 L1757.7,1622.1 L1762.6,1622.6 L1767.5,1623.0 L1772.4,1623.5 L1777.3,1623.9 L1782.2,1624.3 L1787.1,1624.7 L1792.0,1625.2 L1796.9,1625.6 L1801.8,1626.0 L1806.7,1626.4 L1811.6,1626.7 L1816.5,1627.1 L1821.4,1627.5 L1826.3,1627.8 L1831.2,1628.2 L1836.1,1628.5 L1841.0,1628.8 L1845.9,1629.1 L1850.8,1629.5 L1855.7,1629.7 L1860.7,1630.0 L1865.6,1630.3 L1870.5,1630.5 L1875.4,1630.8 L1880.3,1631.0 L1885.2,1631.2 L1890.1,1631.4 L1895.0,1631.6 L1899.9,1631.8 L1904.9,1631.9 L1909.8,1632.1 L1914.7,1632.2 L1919.6,1632.3 L1924.5,1632.4 L1929.4,1632.4 L1934.3,1632.5 L1939.3,1632.5 L1944.2,1632.5 L1949.1,1632.5 L1954.0,1632.5"/>
<path stroke="#ff0000" d="M182.5,216.2 L187.3,216.9 L192.1,217.6 L196.9,218.3 L201.6,219.1 L206.4,219.9 L211.2,220.6 L216.0,221.5 L220.8,222.3 L225.6,223.1 L230.4,224.0 L235.1,224.9 L239.9,225.8 L244.7,226.8 L249.5,227.7 L254.3,228.7 L259.1,229.7 L263.8,230.7 L268.6,231.8 L273.4,232.8 L278.1,233.9 L282.9,235.1 L287.6,236.2 L292.4,237.4 L297.1,238.5 L301.9,239.8 L306.6,241.0 L311.3,242.3 L316.1,243.5 L320.8,244.9 L325.5,246.2 L330.2,247.6 L334.9,248.9 L339.6,250.4 L344.3,251.8 L348.9,253.3 L353.6,254.8 L358.2,256.3 L362.9,257.8 L367.5,259.4 L372.1,261.0 L376.7,262.6 L381.3,264.3 L385.9,266.0 L390.5,267.7 L395.1,269.4 L399.6,271.2 L404.2,273.0 L408.7,274.8 L413.2,276.7 L417.7,278.6 L422.2,280.5 L426.7,282.4 L431.1,284.4 L435.6,286.4 L440.0,288.5 L444.4,290.6 L448.8,292.7 L453.2,294.8 L457.6,297.0 L461.9,299.2 L466.2,301.4 L470.6,303.7 L474.9,306.0 L479.1,308.3 L483.4,310.7 L487.6,313.1 L491.9,315.5 L496.1,318.0 L500.2,320.4 L504.4,323.0 L508.6,325.5 L512.7,328.1 L516.8,330.7 L520.9,333.4 L525.0,336.1 L529.0,338.8 L533.1,341.5 L537.1,344.3 L541.1,347.1 L545.1,349.9 L549.0,352.8 L553.0,355.6 L556.9,358.5 L560.8,361.5 L564.7,364.4 L568.5,367.4 L572.4,370.4 L576.2,373.5 L580.0,376.5 L583.8,379.6 L587.6,382.7 L591.3,385.9 L595.1,389.0 L598.8,392.2 L602.5,395.4 L606.1,398.7 L609.8,401.9 L613.4,405.2 L617.0,408.5 L620.6,411.8 L624.2,415.1 L627.8,418.5 L631.3,421.9 L634.8,425.3 L638.3,428.7 L641.8,432.1 L645.3,435.6 L648.7,439.1 L652.1,442.6 L655.5,446.1 L658.9,449.6 L662.2,453.1 L665.6,456.7 L668.9,460.3 L672.2,463.9 L675.5,467.5 L678.7,471.1 L682.0,474.8 L685.2,478.4 L688.4,482.1 L691.6,485.8 L694.7,489.5 L697.9,493.2 L701.0,496.9 L704.1,500.7 L707.2,504.5 L710.3,508.2 L713.3,512.0 L716.3,515.8 L719.4,519.6 L722.4,523.5 L725.4,527.3 L728.3,531.2 L731.3,535.0 L734.2,538.9 L737.1,542.8 L740.0,546.7 L742.9,550.6 L745.8,554.5 L748.7,558.5 L751.5,562.4 L754.3,566.4 L757.2,570.4 L760.0,574.3 L762.7,578.3 L765.5,582.3 L768.3,586.3 L771.0,590.4 L773.8,594.4 L776.5,598.4 L779.2,602.5 L781.9,606.5 L784.6,610.6 L787.2,614.7 L789.9,618.8 L792.5,622.9 L795.2,627.0 L797.8,631.1 L800.4,635.2 L803.0,639.3 L805.6,643.4 L808.2,647.6 L810.8,651.7 L813.3,655.9 L815.9,660.0 L818.4,664.2 L820.9,668.4 L823.5,672.6 L826.0,676.7 L828.5,680.9 L831.0,685.1 L833.5,689.3 L835.9,693.5 L838.4,697.7 L840.9,701.9 L843.3,706.2 L845.8,710.4 L848.2,714.6 L850.6,718.8 L853.1,723.1 L855.5,727.3 L857.9,731.6 L860.3,735.8 L862.7,740.0 L865.1,744.3 L867.5,748.6 L869.8,752.8 L872.2,757.1 L874.6,761.3 L876.9,765.6 L879.3,769.9 L881.6,774.2 L884.0,778.4 L886.3,782.7 L888.6,787.0 L890.9,791.3 L893.3,795.6 L895.6,799.9 L897.9,804.2 L900.2,808.5 L902.5,812.8 L904.8,817.1 L907.1,821.4 L909.3,825.7 L911.6,830.0 L913.9,834.3 L916.1,838.6 L918.4,842.9 L920.7,847.2 L922.9,851.6 L925.2,855.9 L927.4,860.2 L929.6,864.5 L931.9,868.9 L934.1,873.2 L936.3,877.5 L938.6,881.9 L940.8,886.2 L943.0,890.6 L945.2,894.9 L947.4,899.2 L949.6,903.6 L951.8,907.9 L954.0,912.3 L956.2,916.6 L958.4,921.0 L960.6,925.3 L962.8,929.7 L965.0,934.0 L967.2,938.4 L969.3,942.7 L971.5,947.1 L973.7,951.5 L975.9,955.8 L978.0,960.2 L980.2,964.5 L982.4,968.9 L984.5,973.2 L986.7,977.6 L988.8,982.0 L991.0,986.3 L993.1,990.7 L995.3,995.1 L997.5,999.4 L999.6,1003.8 L1001.8,1008.2 L1003.9,1012.5 L1006.1,1016.9 L1008.2,1021.2 L1010.4,1025.6 L1012.5,1030.0 L1014.7,1034.3 L1016.8,1038.7 L1019.0,1043.0 L1021.2,1047.4 L1023.3,1051.8 L1025.5,1056.1 L1027.6,1060.5 L1029.8,1064.8 L1032.0,1069.2 L1034.2,1073.5 L1036.3,1077.9 L1038.5,1082.2 L1040.7,1086.6 L1042.9,1090.9 L1045.1,1095.2 L1047.3,1099.6 L1049.5,1103.9 L1051.7,1108.2 L1053.9,1112.6 L1056.1,1116.9 L1058.3,1121.2 L1060.6,1125.5 L1062.8,1129.9 L1065.0,1134.2 L1067.3,1138.5 L1069.5,1142.8 L1071.8,1147.1 L1074.1,1151.4 L1076.3,1155.7 L1078.6,1160.0 L1080.9,1164.3 L1083.2,1168.6 L1085.5,1172.9 L1087.8,1177.1 L1090.1,1181.4 L1092.4,1185.7 L1094.8,1190.0 L1097.1,1194.2 L1099.5,1198.5 L1101.8,1202.7 L1104.2,1207.0 L1106.6,1211.2 L1109.0,1215.5 L1111.4,1219.7 L1113.8,1223.9 L1116.2,1228.1 L1118.7,1232.4 L1121.1,1236.6 L1123.6,1240.8 L1126.1,1245.0 L1128.5,1249.2 L1131.0,1253.4 L1133.5,1257.5 L1136.1,1261.7 L1138.6,1265.9 L1141.1,1270.0 L1143.7,1274.2 L1146.3,1278.4 L1148.9,1282.5 L1151.5,1286.6 L1154.1,1290.8 L1156.7,1294.9 L1159.3,1299.0 L1162.0,1303.1 L1164.7,1307.2 L1167.4,1311.3 L1170.1,1315.4 L1172.8,1319.5 L1175.5,1323.6 L1178.3,1327.6 L1181.0,1331.7 L1183.8,1335.7 L1186.6,1339.8 L1189.5,1343.8 L1192.3,1347.8 L1195.2,1351.8 L1198.0,1355.8 L1200.9,1359.8 L1203.9,1363.7 L1206.8,1367.6 L1209.8,1371.5 L1212.8,1375.4 L1215.8,1379.3 L1218.9,1383.1 L1222.0,1386.9 L1225.1,1390.7 L1228.2,1394.4 L1231.4,1398.1 L1234.6,1401.8 L1237.8,1405.4 L1241.1,1409.0 L1244.4,1412.6 L1247.8,1416.1 L1251.1,1419.6 L1254.6,1423.0 L1258.0,1426.4 L1261.5,1429.8 L1265.0,1433.0 L1268.6,1436.3 L1272.2,1439.5 L1275.9,1442.6 L1279.6,1445.7 L1283.3,1448.8 L1287.1,1451.7 L1291.0,1454.7 L1294.8,1457.6 L1298.7,1460.4 L1302.7,1463.2 L1306.6,1465.9 L1310.6,1468.6 L1314.7,1471.3 L1318.8,1473.9 L1322.9,1476.5 L1327.0,1479.0 L1331.2,1481.5 L1335.4,1484.0 L1339.6,1486.4 L1343.8,1488.8 L1348.1,1491.1 L1352.4,1493.4 L1356.7,1495.7 L1361.1,1497.9 L1365.4,1500.1 L1369.8,1502.3 L1374.2,1504.4 L1378.6,1506.5 L1383.1,1508.6 L1387.5,1510.7 L1392.0,1512.7 L1396.5,1514.7 L1401.0,1516.7 L1405.5,1518.6 L1410.0,1520.6 L1414.6,1522.5 L1419.1,1524.4 L1423.7,1526.2 L1428.2,1528.1 L1432.8,1529.9 L1437.3,1531.7 L1441.9,1533.5 L1446.5,1535.3 L1451.1,1537.1 L1455.6,1538.8 L1460.2,1540.6 L1464.8,1542.3 L1469.4,1544.0 L1474.0,1545.7 L1478.5,1547.4 L1483.1,1549.1 L1487.7,1550.8 L1492.2,1552.5 L1496.8,1554.1 L1501.3,1555.8 L1505.9,1557.4 L1510.4,1559.1 L1515.0,1560.7 L1519.5,1562.3 L1524.1,1563.9 L1528.6,1565.5 L1533.2,1567.1 L1537.8,1568.7 L1542.4,1570.2 L1546.9,1571.8 L1551.5,1573.3 L1556.1,1574.8 L1560.8,1576.3 L1565.4,1577.7 L1570.0,1579.2 L1574.7,1580.6 L1579.3,1582.0 L1584.0,1583.4 L1588.7,1584.8 L1593.4,1586.2 L1598.1,1587.6 L1602.8,1588.9 L1607.5,1590.3 L1612.2,1591.7 L1616.9,1593.1 L1621.6,1594.5 L1626.3,1596.0 L1630.9,1597.4 L1635.6,1598.9 L1640.2,1600.4 L1644.9,1601.9 L1649.5,1603.3 L1654.1,1604.8 L1658.8,1606.1 L1663.4,1607.5 L1668.1,1608.7 L1672.8,1609.9 L1677.5,1611.0 L1682.3,1612.0 L1687.0,1612.9 L1691.8,1613.7 L1696.6,1614.5 L1701.4,1615.2 L1706.2,1615.9 L1711.0,1616.5 L1715.9,1617.0 L1720.7,1617.6 L1725.6,1618.1 L1730.5,1618.5 L1735.3,1619.0 L1740.2,1619.4 L1745.1,1619.9 L1749.9,1620.3 L1754.8,1620.7 L1759.7,1621.1 L1764.5,1621.6 L1769.4,1622.1 L1774.3,1622.6 L1779.1,1623.1 L1783.9,1623.7 L1788.8,1624.3 L1793.6,1624.9 L1798.4,1625.7 L1803.1,1626.4 L1807.9,1627.3 L1812.7,1628.1 L1817.4,1629.1 L1822.1,1630.0 L1826.9,1631.0 L1831.6,1632.0 L1836.3,1633.0 L1841.0,1634.0 L1845.7,1634.9 L1850.5,1635.9 L1855.2,1636.8 L1859.9,1637.6 L1864.7,1638.5 L1869.4,1639.2 L1874.2,1639.9 L1879.0,1640.5 L1883.8,1641.0 L1888.6,1641.4 L1893.4,1641.8 L1898.3,1642.0 L1903.2,1642.0 L1908.1,1642.0 L1913.1,1641.8 L1918.1,1641.4 L1923.1,1640.9 L1928.1,1640.3 L1933.2,1639.4 L1938.4,1638.4 L1943.5,1637.1 L1948.7,1635.7 L1954.0,1634.0"/>
<path stroke="#c077e0" d="M182.5,214.5 L187.5,214.5 L192.4,214.5 L197.4,214.6 L202.3,214.7 L207.3,214.7 L212.2,214.8 L217.2,214.9 L222.1,215.1 L227.1,215.2 L232.0,215.4 L236.9,215.5 L241.9,215.7 L246.8,215.9 L251.8,216.2 L256.7,216.4 L261.6,216.7 L266.5,216.9 L271.5,217.2 L276.4,217.5 L281.3,217.8 L286.2,218.2 L291.1,218.5 L296.1,218.9 L301.0,219.3 L305.9,219.7 L310.8,220.1 L315.7,220.5 L320.6,221.0 L325.5,221.4 L330.4,221.9 L335.3,222.4 L340.2,222.9 L345.1,223.5 L350.0,224.0 L354.9,224.6 L359.8,225.1 L364.7,225.7 L369.6,226.3 L374.5,227.0 L379.4,227.6 L384.2,228.3 L389.1,228.9 L394.0,229.6 L398.9,230.3 L403.8,231.0 L408.6,231.8 L413.5,232.5 L418.4,233.3 L423.3,234.1 L428.1,234.9 L433.0,235.7 L437.9,236.5 L442.7,237.4 L447.6,238.2 L452.5,239.1 L457.3,240.0 L462.2,240.9 L467.1,241.9 L471.9,242.8 L476.8,243.8 L481.6,244.7 L486.5,245.7 L491.3,246.7 L496.2,247.8 L501.0,248.8 L505.9,249.9 L510.7,250.9 L515.5,252.0 L520.4,253.2 L525.2,254.3 L530.0,255.5 L534.8,256.7 L539.6,257.9 L544.4,259.1 L549.2,260.4 L554.0,261.6 L558.8,263.0 L563.6,264.3 L568.3,265.6 L573.1,267.0 L577.8,268.5 L582.6,269.9 L587.3,271.4 L592.0,272.9 L596.7,274.4 L601.4,276.0 L606.1,277.6 L610.7,279.2 L615.4,280.9 L620.0,282.6 L624.7,284.3 L629.3,286.1 L633.9,287.9 L638.4,289.7 L643.0,291.6 L647.6,293.5 L652.1,295.5 L656.6,297.5 L661.1,299.5 L665.6,301.5 L670.1,303.6 L674.5,305.7 L679.0,307.9 L683.4,310.1 L687.8,312.3 L692.2,314.5 L696.6,316.8 L700.9,319.2 L705.3,321.5 L709.6,323.9 L713.9,326.3 L718.2,328.8 L722.5,331.2 L726.7,333.8 L731.0,336.3 L735.2,338.9 L739.4,341.5 L743.6,344.1 L747.7,346.8 L751.9,349.5 L756.0,352.2 L760.1,355.0 L764.2,357.7 L768.2,360.6 L772.3,363.4 L776.3,366.3 L780.3,369.2 L784.3,372.1 L788.2,375.1 L792.2,378.1 L796.1,381.1 L800.0,384.1 L803.9,387.2 L807.7,390.3 L811.6,393.4 L815.4,396.6 L819.2,399.7 L823.0,402.9 L826.7,406.2 L830.4,409.4 L834.1,412.7 L837.8,416.0 L841.5,419.3 L845.1,422.7 L848.7,426.1 L852.3,429.5 L855.9,432.9 L859.5,436.4 L863.0,439.8 L866.5,443.3 L869.9,446.9 L873.4,450.4 L876.8,454.0 L880.2,457.6 L883.6,461.2 L887.0,464.8 L890.3,468.5 L893.6,472.2 L896.9,475.9 L900.1,479.6 L903.4,483.4 L906.6,487.1 L909.8,490.9 L912.9,494.7 L916.1,498.5 L919.2,502.4 L922.3,506.2 L925.4,510.1 L928.4,514.0 L931.5,517.9 L934.5,521.8 L937.5,525.8 L940.5,529.7 L943.5,533.7 L946.4,537.7 L949.3,541.7 L952.2,545.7 L955.1,549.7 L958.0,553.7 L960.8,557.8 L963.7,561.8 L966.5,565.9 L969.3,570.0 L972.1,574.1 L974.8,578.2 L977.6,582.3 L980.3,586.4 L983.0,590.5 L985.7,594.7 L988.4,598.8 L991.1,603.0 L993.8,607.1 L996.4,611.3 L999.0,615.5 L1001.7,619.6 L1004.3,623.8 L1006.9,628.0 L1009.4,632.2 L1012.0,636.4 L1014.6,640.7 L1017.1,644.9 L1019.6,649.1 L1022.1,653.4 L1024.6,657.6 L1027.1,661.9 L1029.6,666.1 L1032.1,670.4 L1034.5,674.7 L1036.9,679.0 L1039.4,683.2 L1041.8,687.5 L1044.2,691.8 L1046.6,696.1 L1049.0,700.4 L1051.4,704.8 L1053.7,709.1 L1056.1,713.4 L1058.4,717.7 L1060.8,722.1 L1063.1,726.4 L1065.4,730.8 L1067.7,735.1 L1070.0,739.5 L1072.3,743.8 L1074.6,748.2 L1076.9,752.6 L1079.1,757.0 L1081.4,761.3 L1083.7,765.7 L1085.9,770.1 L1088.1,774.5 L1090.4,778.9 L1092.6,783.3 L1094.8,787.7 L1097.0,792.1 L1099.2,796.5 L1101.4,800.9 L1103.6,805.4 L1105.8,809.8 L1108.0,814.2 L1110.1,818.6 L1112.3,823.1 L1114.5,827.5 L1116.6,831.9 L1118.8,836.4 L1120.9,840.8 L1123.1,845.3 L1125.2,849.7 L1127.3,854.2 L1129.5,858.6 L1131.6,863.1 L1133.7,867.5 L1135.9,872.0 L1138.0,876.4 L1140.1,880.9 L1142.2,885.4 L1144.3,889.8 L1146.4,894.3 L1148.5,898.8 L1150.6,903.2 L1152.7,907.7 L1154.8,912.2 L1156.9,916.6 L1159.0,921.1 L1161.1,925.6 L1163.2,930.1 L1165.3,934.5 L1167.4,939.0 L1169.5,943.5 L1171.6,948.0 L1173.7,952.4 L1175.8,956.9 L1177.9,961.4 L1180.0,965.9 L1182.1,970.3 L1184.2,974.8 L1186.3,979.3 L1188.4,983.7 L1190.5,988.2 L1192.6,992.7 L1194.7,997.2 L1196.8,1001.6 L1198.9,1006.1 L1201.0,1010.6 L1203.1,1015.0 L1205.3,1019.5 L1207.4,1023.9 L1209.5,1028.4 L1211.6,1032.9 L1213.8,1037.3 L1215.9,1041.8 L1218.0,1046.2 L1220.2,1050.7 L1222.3,1055.1 L1224.5,1059.6 L1226.7,1064.0 L1228.8,1068.5 L1231.0,1072.9 L1233.2,1077.3 L1235.3,1081.8 L1237.5,1086.2 L1239.7,1090.6 L1241.9,1095.0 L1244.1,1099.5 L1246.3,1103.9 L1248.5,1108.3 L1250.8,1112.7 L1253.0,1117.1 L1255.2,1121.5 L1257.5,1125.9 L1259.7,1130.3 L1262.0,1134.7 L1264.2,1139.1 L1266.5,1143.5 L1268.8,1147.8 L1271.1,1152.2 L1273.4,1156.6 L1275.7,1161.0 L1278.0,1165.3 L1280.4,1169.7 L1282.7,1174.0 L1285.0,1178.4 L1287.4,1182.7 L1289.8,1187.0 L1292.1,1191.4 L1294.5,1195.7 L1296.9,1200.0 L1299.3,1204.3 L1301.7,1208.6 L1304.2,1212.9 L1306.6,1217.2 L1309.0,1221.5 L1311.5,1225.8 L1314.0,1230.1 L1316.4,1234.3 L1318.9,1238.6 L1321.4,1242.9 L1323.9,1247.1 L1326.5,1251.4 L1329.0,1255.6 L1331.5,1259.8 L1334.1,1264.0 L1336.7,1268.3 L1339.2,1272.5 L1341.8,1276.7 L1344.4,1280.9 L1347.0,1285.1 L1349.7,1289.2 L1352.3,1293.4 L1354.9,1297.6 L1357.6,1301.7 L1360.3,1305.9 L1363.0,1310.0 L1365.6,1314.2 L1368.4,1318.3 L1371.1,1322.4 L1373.8,1326.5 L1376.6,1330.6 L1379.3,1334.7 L1382.1,1338.8 L1384.9,1342.9 L1387.7,1346.9 L1390.5,1351.0 L1393.3,1355.1 L1396.1,1359.1 L1399.0,1363.1 L1401.8,1367.1 L1404.7,1371.2 L1407.6,1375.2 L1410.5,1379.2 L1413.4,1383.1 L1416.3,1387.1 L1419.3,1391.1 L1422.3,1395.0 L1425.2,1399.0 L1428.2,1402.9 L1431.2,1406.8 L1434.2,1410.8 L1437.3,1414.7 L1440.3,1418.6 L1443.4,1422.4 L1446.4,1426.3 L1449.5,1430.2 L1452.6,1434.0 L1455.7,1437.9 L1458.9,1441.7 L1462.0,1445.5 L1465.2,1449.3 L1468.4,1453.1 L1471.5,1456.9 L1474.8,1460.7 L1478.0,1464.5 L1481.2,1468.2 L1484.5,1471.9 L1487.7,1475.7 L1491.0,1479.4 L1494.3,1483.1 L1497.7,1486.7 L1501.0,1490.4 L1504.4,1494.0 L1507.8,1497.6 L1511.2,1501.2 L1514.7,1504.8 L1518.1,1508.3 L1521.6,1511.8 L1525.2,1515.2 L1528.7,1518.6 L1532.3,1522.0 L1536.0,1525.4 L1539.6,1528.7 L1543.3,1531.9 L1547.0,1535.1 L1550.8,1538.3 L1554.6,1541.4 L1558.4,1544.5 L1562.3,1547.5 L1566.2,1550.5 L1570.2,1553.4 L1574.2,1556.3 L1578.3,1559.1 L1582.4,1561.8 L1586.5,1564.5 L1590.7,1567.1 L1594.9,1569.7 L1599.2,1572.2 L1603.5,1574.6 L1607.8,1577.1 L1612.1,1579.4 L1616.5,1581.7 L1620.9,1584.0 L1625.4,1586.2 L1629.8,1588.4 L1634.3,1590.5 L1638.7,1592.6 L1643.3,1594.7 L1647.8,1596.7 L1652.3,1598.6 L1656.9,1600.5 L1661.5,1602.4 L1666.1,1604.2 L1670.7,1605.9 L1675.3,1607.6 L1680.0,1609.2 L1684.6,1610.8 L1689.3,1612.3 L1694.0,1613.7 L1698.8,1615.1 L1703.5,1616.4 L1708.3,1617.6 L1713.0,1618.8 L1717.8,1619.9 L1722.7,1620.9 L1727.5,1621.8 L1732.3,1622.7 L1737.2,1623.5 L1742.1,1624.3 L1747.0,1625.0 L1751.9,1625.7 L1756.8,1626.3 L1761.7,1626.9 L1766.6,1627.4 L1771.5,1627.9 L1776.4,1628.4 L1781.4,1628.8 L1786.3,1629.2 L1791.2,1629.6 L1796.1,1629.9 L1801.1,1630.3 L1806.0,1630.6 L1810.9,1630.9 L1815.9,1631.1 L1820.8,1631.4 L1825.7,1631.6 L1830.7,1631.8 L1835.6,1632.0 L1840.6,1632.2 L1845.5,1632.4 L1850.4,1632.6 L1855.4,1632.8 L1860.3,1632.9 L1865.3,1633.1 L1870.2,1633.2 L1875.2,1633.4 L1880.1,1633.5 L1885.0,1633.7 L1890.0,1633.9 L1894.9,1634.0 L1899.8,1634.2 L1904.8,1634.4 L1909.7,1634.6 L1914.6,1634.8 L1919.6,1635.0 L1924.5,1635.2 L1929.4,1635.5 L1934.3,1635.7 L1939.3,1636.0 L1944.2,1636.3 L1949.1,1636.7 L1954.0,1637.0"/>
<path stroke="#db9800" d="M182.5,212.7 L187.6,212.7 L192.7,212.6 L197.9,212.6 L203.0,212.6 L208.1,212.6 L213.2,212.5 L218.4,212.5 L223.5,212.5 L228.6,212.5 L233.7,212.5 L238.9,212.5 L244.0,212.5 L249.1,212.5 L254.2,212.6 L259.3,212.6 L264.5,212.6 L269.6,212.6 L274.7,212.7 L279.8,212.7 L284.9,212.8 L290.0,212.8 L295.1,212.9 L300.2,212.9 L305.4,213.0 L310.5,213.0 L315.6,213.1 L320.7,213.2 L325.8,213.3 L330.9,213.4 L336.0,213.5 L341.1,213.6 L346.2,213.7 L351.3,213.8 L356.4,213.9 L361.5,214.1 L366.6,214.2 L371.7,214.4 L376.8,214.5 L381.9,214.7 L387.0,214.8 L392.1,215.0 L397.2,215.2 L402.3,215.4 L407.4,215.6 L412.5,215.8 L417.5,216.0 L422.6,216.2 L427.7,216.4 L432.8,216.7 L437.9,216.9 L443.0,217.2 L448.1,217.4 L453.2,217.7 L458.3,218.0 L463.4,218.3 L468.5,218.6 L473.5,218.9 L478.6,219.2 L483.7,219.5 L488.8,219.8 L493.9,220.2 L499.0,220.5 L504.1,220.9 L509.2,221.3 L514.3,221.7 L519.3,222.0 L524.4,222.5 L529.5,222.9 L534.6,223.3 L539.7,223.7 L544.8,224.2 L549.9,224.6 L555.0,225.1 L560.0,225.6 L565.1,226.1 L570.2,226.6 L575.3,227.1 L580.4,227.6 L585.5,228.1 L590.6,228.7 L595.7,229.2 L600.8,229.8 L605.8,230.4 L610.9,231.0 L616.0,231.6 L621.1,232.2 L626.2,232.9 L631.3,233.5 L636.4,234.2 L641.5,234.8 L646.6,235.5 L651.7,236.2 L656.8,236.9 L661.8,237.7 L666.9,238.4 L672.0,239.2 L677.1,240.0 L682.2,240.8 L687.3,241.6 L692.3,242.4 L697.4,243.3 L702.5,244.2 L707.5,245.0 L712.6,246.0 L717.6,246.9 L722.7,247.9 L727.7,248.8 L732.8,249.8 L737.8,250.9 L742.8,251.9 L747.8,253.0 L752.9,254.1 L757.9,255.2 L762.8,256.4 L767.8,257.5 L772.8,258.7 L777.8,260.0 L782.7,261.2 L787.7,262.5 L792.6,263.8 L797.6,265.2 L802.5,266.5 L807.4,267.9 L812.3,269.4 L817.2,270.8 L822.1,272.3 L826.9,273.8 L831.8,275.4 L836.6,277.0 L841.5,278.6 L846.3,280.3 L851.1,282.0 L855.9,283.7 L860.6,285.5 L865.4,287.3 L870.1,289.1 L874.9,291.0 L879.6,292.9 L884.3,294.9 L889.0,296.9 L893.6,298.9 L898.3,301.0 L902.9,303.1 L907.5,305.3 L912.1,307.5 L916.7,309.7 L921.3,312.0 L925.8,314.3 L930.3,316.7 L934.8,319.1 L939.3,321.5 L943.8,324.0 L948.2,326.6 L952.7,329.1 L957.1,331.8 L961.4,334.4 L965.8,337.1 L970.1,339.9 L974.5,342.7 L978.8,345.5 L983.0,348.3 L987.3,351.2 L991.5,354.2 L995.7,357.1 L999.9,360.1 L1004.0,363.2 L1008.2,366.3 L1012.3,369.4 L1016.4,372.5 L1020.4,375.7 L1024.4,378.9 L1028.5,382.1 L1032.4,385.4 L1036.4,388.7 L1040.3,392.1 L1044.2,395.4 L1048.1,398.8 L1051.9,402.3 L1055.7,405.7 L1059.5,409.2 L1063.3,412.7 L1067.0,416.3 L1070.7,419.8 L1074.4,423.4 L1078.0,427.0 L1081.6,430.7 L1085.2,434.3 L1088.7,438.0 L1092.3,441.7 L1095.8,445.5 L1099.2,449.3 L1102.7,453.0 L1106.1,456.8 L1109.4,460.7 L1112.8,464.5 L1116.1,468.4 L1119.4,472.3 L1122.7,476.2 L1125.9,480.2 L1129.1,484.1 L1132.3,488.1 L1135.5,492.1 L1138.6,496.1 L1141.7,500.2 L1144.8,504.2 L1147.8,508.3 L1150.9,512.4 L1153.9,516.5 L1156.9,520.7 L1159.8,524.8 L1162.8,529.0 L1165.7,533.2 L1168.6,537.4 L1171.4,541.6 L1174.3,545.9 L1177.1,550.1 L1179.9,554.4 L1182.7,558.7 L1185.5,563.0 L1188.2,567.3 L1190.9,571.6 L1193.6,575.9 L1196.3,580.3 L1198.9,584.7 L1201.6,589.1 L1204.2,593.5 L1206.8,597.9 L1209.4,602.3 L1211.9,606.7 L1214.5,611.2 L1217.0,615.6 L1219.5,620.1 L1222.0,624.6 L1224.5,629.1 L1226.9,633.6 L1229.3,638.1 L1231.8,642.6 L1234.2,647.1 L1236.6,651.7 L1238.9,656.2 L1241.3,660.8 L1243.6,665.3 L1246.0,669.9 L1248.3,674.5 L1250.6,679.1 L1252.9,683.7 L1255.1,688.3 L1257.4,692.9 L1259.6,697.5 L1261.9,702.1 L1264.1,706.7 L1266.3,711.3 L1268.5,716.0 L1270.7,720.6 L1272.8,725.3 L1275.0,729.9 L1277.1,734.6 L1279.3,739.2 L1281.4,743.9 L1283.5,748.5 L1285.6,753.2 L1287.7,757.9 L1289.8,762.6 L1291.9,767.2 L1293.9,771.9 L1296.0,776.6 L1298.0,781.3 L1300.0,786.0 L1302.1,790.7 L1304.1,795.4 L1306.1,800.1 L1308.1,804.8 L1310.1,809.5 L1312.0,814.2 L1314.0,819.0 L1316.0,823.7 L1317.9,828.4 L1319.8,833.1 L1321.8,837.9 L1323.7,842.6 L1325.6,847.4 L1327.5,852.1 L1329.4,856.8 L1331.3,861.6 L1333.2,866.3 L1335.1,871.1 L1336.9,875.8 L1338.8,880.6 L1340.7,885.4 L1342.5,890.1 L1344.4,894.9 L1346.2,899.7 L1348.0,904.4 L1349.9,909.2 L1351.7,914.0 L1353.5,918.8 L1355.3,923.5 L1357.1,928.3 L1358.9,933.1 L1360.7,937.9 L1362.5,942.7 L1364.3,947.5 L1366.0,952.2 L1367.8,957.0 L1369.6,961.8 L1371.3,966.6 L1373.1,971.4 L1374.8,976.2 L1376.6,981.0 L1378.3,985.8 L1380.1,990.6 L1381.8,995.4 L1383.6,1000.2 L1385.3,1005.0 L1387.0,1009.8 L1388.7,1014.6 L1390.5,1019.4 L1392.2,1024.2 L1393.9,1029.1 L1395.6,1033.9 L1397.3,1038.7 L1399.1,1043.5 L1400.8,1048.3 L1402.5,1053.1 L1404.2,1057.9 L1405.9,1062.7 L1407.6,1067.5 L1409.3,1072.4 L1411.0,1077.2 L1412.7,1082.0 L1414.4,1086.8 L1416.1,1091.6 L1417.8,1096.4 L1419.5,1101.2 L1421.2,1106.0 L1422.9,1110.9 L1424.6,1115.7 L1426.3,1120.5 L1428.0,1125.3 L1429.7,1130.1 L1431.4,1134.9 L1433.1,1139.7 L1434.8,1144.5 L1436.5,1149.3 L1438.2,1154.1 L1439.9,1158.9 L1441.6,1163.8 L1443.3,1168.6 L1445.0,1173.4 L1446.7,1178.2 L1448.5,1183.0 L1450.2,1187.8 L1451.9,1192.6 L1453.7,1197.4 L1455.4,1202.2 L1457.1,1207.0 L1458.9,1211.8 L1460.6,1216.6 L1462.4,1221.4 L1464.1,1226.1 L1465.9,1230.9 L1467.7,1235.7 L1469.5,1240.5 L1471.2,1245.3 L1473.0,1250.1 L1474.8,1254.9 L1476.6,1259.7 L1478.4,1264.4 L1480.3,1269.2 L1482.1,1274.0 L1483.9,1278.8 L1485.8,1283.5 L1487.6,1288.3 L1489.5,1293.1 L1491.3,1297.9 L1493.2,1302.6 L1495.1,1307.4 L1497.0,1312.2 L1498.9,1316.9 L1500.8,1321.7 L1502.7,1326.4 L1504.6,1331.2 L1506.5,1335.9 L1508.5,1340.7 L1510.4,1345.4 L1512.4,1350.2 L1514.4,1354.9 L1516.4,1359.7 L1518.4,1364.4 L1520.4,1369.1 L1522.4,1373.8 L1524.5,1378.6 L1526.5,1383.3 L1528.6,1388.0 L1530.7,1392.7 L1532.8,1397.4 L1535.0,1402.0 L1537.1,1406.7 L1539.3,1411.3 L1541.5,1416.0 L1543.8,1420.6 L1546.0,1425.2 L1548.3,1429.8 L1550.6,1434.3 L1553.0,1438.9 L1555.4,1443.4 L1557.8,1447.9 L1560.2,1452.4 L1562.7,1456.9 L1565.2,1461.3 L1567.8,1465.7 L1570.3,1470.1 L1573.0,1474.5 L1575.6,1478.8 L1578.3,1483.1 L1581.1,1487.4 L1583.8,1491.7 L1586.7,1495.9 L1589.5,1500.1 L1592.5,1504.2 L1595.4,1508.3 L1598.4,1512.4 L1601.5,1516.5 L1604.6,1520.5 L1607.8,1524.5 L1611.0,1528.4 L1614.2,1532.3 L1617.6,1536.2 L1620.9,1540.0 L1624.4,1543.8 L1627.9,1547.5 L1631.4,1551.2 L1635.0,1554.8 L1638.7,1558.4 L1642.4,1561.9 L1646.2,1565.3 L1650.1,1568.7 L1654.0,1572.0 L1658.0,1575.2 L1662.1,1578.3 L1666.2,1581.3 L1670.4,1584.1 L1674.7,1586.9 L1679.1,1589.6 L1683.5,1592.1 L1688.0,1594.5 L1692.6,1596.9 L1697.2,1599.1 L1701.8,1601.2 L1706.5,1603.2 L1711.3,1605.2 L1716.1,1607.0 L1720.9,1608.7 L1725.8,1610.4 L1730.7,1612.0 L1735.6,1613.5 L1740.6,1614.9 L1745.6,1616.2 L1750.5,1617.5 L1755.6,1618.6 L1760.6,1619.8 L1765.6,1620.8 L1770.6,1621.8 L1775.7,1622.7 L1780.7,1623.6 L1785.8,1624.4 L1790.9,1625.1 L1795.9,1625.8 L1801.0,1626.5 L1806.1,1627.1 L1811.1,1627.7 L1816.2,1628.2 L1821.3,1628.6 L1826.4,1629.1 L1831.5,1629.5 L1836.6,1629.8 L1841.7,1630.2 L1846.8,1630.5 L1851.9,1630.8 L1857.0,1631.0 L1862.1,1631.2 L1867.2,1631.5 L1872.3,1631.6 L1877.4,1631.8 L1882.5,1632.0 L1887.6,1632.1 L1892.7,1632.3 L1897.8,1632.4 L1902.9,1632.5 L1908.0,1632.6 L1913.2,1632.8 L1918.3,1632.9 L1923.4,1633.0 L1928.5,1633.2 L1933.6,1633.3 L1938.7,1633.5 L1943.8,1633.6 L1948.9,1633.8 L1954.0,1634.0"/>
<path stroke="#00cccc" d="M182.5,211.2 L187.8,211.2 L193.1,211.3 L198.3,211.3 L203.6,211.3 L208.9,211.3 L214.2,211.3 L219.4,211.3 L224.7,211.4 L230.0,211.4 L235.3,211.4 L240.5,211.4 L245.8,211.4 L251.1,211.4 L256.4,211.4 L261.6,211.4 L266.9,211.4 L272.2,211.4 L277.5,211.4 L282.7,211.4 L288.0,211.4 L293.3,211.5 L298.6,211.5 L303.8,211.5 L309.1,211.5 L314.4,211.5 L319.7,211.5 L325.0,211.5 L330.2,211.5 L335.5,211.5 L340.8,211.5 L346.1,211.5 L351.3,211.5 L356.6,211.5 L361.9,211.5 L367.2,211.5 L372.5,211.5 L377.7,211.6 L383.0,211.6 L388.3,211.6 L393.6,211.6 L398.9,211.6 L404.1,211.6 L409.4,211.6 L414.7,211.7 L420.0,211.7 L425.3,211.7 L430.5,211.7 L435.8,211.8 L441.1,211.8 L446.4,211.8 L451.6,211.8 L456.9,211.9 L462.2,211.9 L467.5,211.9 L472.8,212.0 L478.0,212.0 L483.3,212.1 L488.6,212.1 L493.9,212.1 L499.2,212.2 L504.4,212.2 L509.7,212.3 L515.0,212.4 L520.3,212.4 L525.6,212.5 L530.8,212.5 L536.1,212.6 L541.4,212.7 L546.7,212.7 L552.0,212.8 L557.2,212.9 L562.5,213.0 L567.8,213.1 L573.1,213.1 L578.3,213.2 L583.6,213.3 L588.9,213.4 L594.2,213.5 L599.5,213.6 L604.7,213.7 L610.0,213.9 L615.3,214.0 L620.6,214.1 L625.8,214.2 L631.1,214.3 L636.4,214.5 L641.7,214.6 L646.9,214.8 L652.2,214.9 L657.5,215.0 L662.8,215.2 L668.0,215.4 L673.3,215.5 L678.6,215.7 L683.9,215.9 L689.1,216.0 L694.4,216.2 L699.7,216.4 L705.0,216.6 L710.2,216.8 L715.5,217.0 L720.8,217.2 L726.1,217.4 L731.3,217.6 L736.6,217.8 L741.9,218.1 L747.1,218.3 L752.4,218.5 L757.7,218.8 L762.9,219.0 L768.2,219.3 L773.5,219.5 L778.8,219.8 L784.0,220.1 L789.3,220.3 L794.6,220.6 L799.8,220.9 L805.1,221.2 L810.4,221.5 L815.6,221.8 L820.9,222.1 L826.2,222.5 L831.4,222.8 L836.7,223.2 L841.9,223.5 L847.2,223.9 L852.5,224.3 L857.7,224.7 L863.0,225.1 L868.2,225.5 L873.5,226.0 L878.7,226.4 L884.0,226.9 L889.2,227.3 L894.5,227.8 L899.7,228.3 L905.0,228.9 L910.2,229.4 L915.5,230.0 L920.7,230.5 L925.9,231.1 L931.2,231.7 L936.4,232.4 L941.7,233.0 L946.9,233.7 L952.1,234.4 L957.3,235.1 L962.6,235.8 L967.8,236.5 L973.0,237.3 L978.2,238.1 L983.4,238.9 L988.7,239.7 L993.9,240.6 L999.1,241.5 L1004.3,242.4 L1009.5,243.3 L1014.7,244.3 L1019.9,245.3 L1025.1,246.3 L1030.3,247.3 L1035.5,248.4 L1040.6,249.5 L1045.8,250.6 L1051.0,251.7 L1056.2,252.9 L1061.4,254.1 L1066.5,255.3 L1071.7,256.6 L1076.9,257.9 L1082.0,259.2 L1087.2,260.6 L1092.3,261.9 L1097.5,263.4 L1102.6,264.8 L1107.7,266.3 L1112.8,267.8 L1117.9,269.4 L1123.0,271.0 L1128.1,272.7 L1133.2,274.4 L1138.2,276.1 L1143.2,277.9 L1148.2,279.7 L1153.2,281.6 L1158.1,283.5 L1163.1,285.5 L1168.0,287.5 L1172.8,289.6 L1177.7,291.7 L1182.5,293.9 L1187.3,296.2 L1192.0,298.5 L1196.7,300.8 L1201.4,303.3 L1206.1,305.7 L1210.7,308.3 L1215.2,310.9 L1219.7,313.6 L1224.2,316.3 L1228.6,319.1 L1233.0,322.0 L1237.3,325.0 L1241.6,328.0 L1245.9,331.0 L1250.1,334.2 L1254.2,337.4 L1258.3,340.7 L1262.4,344.0 L1266.4,347.4 L1270.4,350.8 L1274.3,354.3 L1278.2,357.9 L1282.0,361.5 L1285.8,365.2 L1289.5,368.9 L1293.3,372.7 L1296.9,376.5 L1300.5,380.3 L1304.1,384.3 L1307.7,388.2 L1311.2,392.2 L1314.6,396.3 L1318.1,400.3 L1321.4,404.5 L1324.8,408.6 L1328.1,412.8 L1331.3,417.0 L1334.6,421.3 L1337.7,425.6 L1340.9,429.9 L1344.0,434.3 L1347.1,438.7 L1350.1,443.1 L1353.1,447.6 L1356.0,452.0 L1359.0,456.5 L1361.8,461.0 L1364.7,465.6 L1367.5,470.1 L1370.3,474.7 L1373.0,479.3 L1375.7,483.9 L1378.4,488.5 L1381.0,493.2 L1383.6,497.8 L1386.2,502.5 L1388.7,507.2 L1391.2,511.9 L1393.7,516.6 L1396.1,521.3 L1398.6,526.0 L1400.9,530.7 L1403.3,535.5 L1405.6,540.2 L1407.9,545.0 L1410.2,549.7 L1412.4,554.5 L1414.6,559.3 L1416.8,564.1 L1419.0,568.9 L1421.1,573.8 L1423.2,578.6 L1425.3,583.4 L1427.3,588.3 L1429.4,593.1 L1431.4,598.0 L1433.4,602.9 L1435.4,607.8 L1437.3,612.7 L1439.3,617.6 L1441.2,622.5 L1443.1,627.4 L1445.0,632.3 L1446.8,637.2 L1448.7,642.1 L1450.5,647.1 L1452.3,652.0 L1454.1,657.0 L1455.9,661.9 L1457.7,666.9 L1459.4,671.8 L1461.2,676.8 L1462.9,681.8 L1464.6,686.8 L1466.3,691.8 L1468.0,696.7 L1469.7,701.7 L1471.4,706.7 L1473.0,711.7 L1474.7,716.7 L1476.4,721.7 L1478.0,726.7 L1479.6,731.8 L1481.3,736.8 L1482.9,741.8 L1484.5,746.8 L1486.1,751.8 L1487.7,756.9 L1489.3,761.9 L1490.9,766.9 L1492.5,771.9 L1494.0,777.0 L1495.6,782.0 L1497.1,787.1 L1498.7,792.1 L1500.2,797.1 L1501.8,802.2 L1503.3,807.2 L1504.8,812.3 L1506.4,817.4 L1507.9,822.4 L1509.4,827.5 L1510.9,832.5 L1512.4,837.6 L1513.9,842.6 L1515.4,847.7 L1516.9,852.8 L1518.4,857.8 L1519.9,862.9 L1521.3,868.0 L1522.8,873.1 L1524.3,878.1 L1525.7,883.2 L1527.2,888.3 L1528.6,893.4 L1530.1,898.4 L1531.5,903.5 L1533.0,908.6 L1534.4,913.7 L1535.9,918.8 L1537.3,923.8 L1538.7,928.9 L1540.2,934.0 L1541.6,939.1 L1543.0,944.2 L1544.4,949.3 L1545.9,954.4 L1547.3,959.4 L1548.7,964.5 L1550.1,969.6 L1551.5,974.7 L1552.9,979.8 L1554.4,984.9 L1555.8,990.0 L1557.2,995.1 L1558.6,1000.1 L1560.0,1005.2 L1561.4,1010.3 L1562.8,1015.4 L1564.2,1020.5 L1565.6,1025.6 L1567.0,1030.7 L1568.4,1035.8 L1569.8,1040.8 L1571.3,1045.9 L1572.7,1051.0 L1574.1,1056.1 L1575.5,1061.2 L1576.9,1066.3 L1578.3,1071.3 L1579.7,1076.4 L1581.2,1081.5 L1582.6,1086.6 L1584.0,1091.7 L1585.4,1096.7 L1586.9,1101.8 L1588.3,1106.9 L1589.7,1112.0 L1591.2,1117.1 L1592.6,1122.1 L1594.0,1127.2 L1595.5,1132.3 L1596.9,1137.4 L1598.4,1142.4 L1599.9,1147.5 L1601.3,1152.6 L1602.8,1157.6 L1604.3,1162.7 L1605.7,1167.8 L1607.2,1172.8 L1608.7,1177.9 L1610.2,1182.9 L1611.7,1188.0 L1613.2,1193.1 L1614.7,1198.1 L1616.2,1203.2 L1617.7,1208.2 L1619.3,1213.3 L1620.8,1218.3 L1622.3,1223.4 L1623.9,1228.4 L1625.4,1233.4 L1627.0,1238.5 L1628.6,1243.5 L1630.1,1248.6 L1631.7,1253.6 L1633.3,1258.6 L1634.9,1263.6 L1636.5,1268.7 L1638.1,1273.7 L1639.7,1278.7 L1641.4,1283.7 L1643.0,1288.8 L1644.7,1293.8 L1646.3,1298.8 L1648.0,1303.8 L1649.7,1308.8 L1651.3,1313.8 L1653.0,1318.8 L1654.7,1323.8 L1656.4,1328.8 L1658.2,1333.8 L1659.9,1338.8 L1661.7,1343.8 L1663.4,1348.8 L1665.2,1353.7 L1667.0,1358.7 L1668.8,1363.7 L1670.6,1368.6 L1672.5,1373.6 L1674.4,1378.5 L1676.2,1383.4 L1678.2,1388.4 L1680.1,1393.3 L1682.1,1398.2 L1684.1,1403.1 L1686.1,1407.9 L1688.1,1412.8 L1690.2,1417.6 L1692.3,1422.5 L1694.4,1427.3 L1696.6,1432.1 L1698.8,1436.9 L1701.0,1441.7 L1703.3,1446.4 L1705.6,1451.2 L1707.9,1455.9 L1710.3,1460.6 L1712.7,1465.3 L1715.2,1469.9 L1717.7,1474.6 L1720.2,1479.2 L1722.8,1483.8 L1725.4,1488.4 L1728.1,1492.9 L1730.8,1497.5 L1733.6,1502.0 L1736.4,1506.4 L1739.3,1510.9 L1742.2,1515.3 L1745.2,1519.7 L1748.2,1524.0 L1751.3,1528.3 L1754.4,1532.6 L1757.6,1536.8 L1760.9,1541.0 L1764.2,1545.2 L1767.5,1549.3 L1771.0,1553.4 L1774.5,1557.4 L1778.0,1561.3 L1781.7,1565.2 L1785.4,1568.9 L1789.2,1572.6 L1793.0,1576.2 L1796.9,1579.7 L1801.0,1583.1 L1805.1,1586.4 L1809.2,1589.5 L1813.5,1592.5 L1817.9,1595.3 L1822.3,1598.1 L1826.8,1600.6 L1831.4,1603.1 L1836.1,1605.3 L1840.9,1607.5 L1845.7,1609.5 L1850.6,1611.5 L1855.5,1613.2 L1860.5,1614.9 L1865.6,1616.5 L1870.7,1617.9 L1875.8,1619.3 L1881.0,1620.6 L1886.2,1621.7 L1891.4,1622.8 L1896.6,1623.8 L1901.9,1624.7 L1907.2,1625.5 L1912.5,1626.2 L1917.8,1626.9 L1923.1,1627.5 L1928.3,1628.0 L1933.6,1628.5 L1938.9,1628.9 L1944.2,1629.3 L1949.4,1629.6 L1954.6,1629.9"/>
</g>
<text x="129" y="232.0" font-size="78" text-anchor="end">1.0</text>
<text x="129" y="518.2" font-size="78" text-anchor="end">0.8</text>
<text x="129" y="804.4" font-size="78" text-anchor="end">0.6</text>
<text x="129" y="1090.6" font-size="78" text-anchor="end">0.4</text>
<text x="129" y="1376.8" font-size="78" text-anchor="end">0.2</text>
<text x="129" y="1663.0" font-size="78" text-anchor="end">0.0</text>
<text x="117.9" y="1766.5" font-size="78">10</text>
<text x="192.4" y="1734.8" font-size="52">−1</text>
<text x="387.0" y="1766.5" font-size="78">10</text>
<text x="462.5" y="1734.8" font-size="52">0</text>
<text x="640.0" y="1766.5" font-size="78">10</text>
<text x="715.5" y="1734.8" font-size="52">1</text>
<text x="893.8" y="1766.5" font-size="78">10</text>
<text x="969.3" y="1734.8" font-size="52">2</text>
<text x="1147.9" y="1766.5" font-size="78">10</text>
<text x="1223.4" y="1734.8" font-size="52">3</text>
<text x="1400.5" y="1766.5" font-size="78">10</text>
<text x="1476.0" y="1734.8" font-size="52">4</text>
<text x="1654.7" y="1766.5" font-size="78">10</text>
<text x="1730.2" y="1734.8" font-size="52">5</text>
<text x="1908.9" y="1766.5" font-size="78">10</text>
<text x="1984.4" y="1734.8" font-size="52">6</text>
<text class="it" x="96.4" y="97.9" font-size="100">w</text>
<text class="it" x="167.5" y="125.9" font-size="56">D</text>
<text x="2031" y="1672.5" font-size="135" font-weight="bold" font-style="italic">τ</text>
<text x="1618" y="186.3" font-size="74" textLength="439.5" lengthAdjust="spacingAndGlyphs">Standard curve</text>
<line x1="1620" y1="260.0" x2="1782" y2="260.0" stroke="#737373" stroke-width="8" stroke-linecap="round"/>
<text class="it" transform="translate(1805.5,284.2) scale(1.2,1)" font-size="75.5">α</text>
<text transform="translate(1861.3,278.8) scale(1.1,0.82)" font-size="75.5">=</text>
<text transform="translate(1923.2,284.2) scale(0.955,1)" font-size="75.5">0.05</text>
<line x1="1620" y1="358.4" x2="1782" y2="358.4" stroke="#008000" stroke-width="8" stroke-linecap="round"/>
<text class="it" transform="translate(1805.5,382.6) scale(1.2,1)" font-size="75.5">α</text>
<text transform="translate(1861.3,377.2) scale(1.1,0.82)" font-size="75.5">=</text>
<text transform="translate(1923.2,382.6) scale(0.955,1)" font-size="75.5">0.1</text>
<line x1="1620" y1="456.8" x2="1782" y2="456.8" stroke="#006ce0" stroke-width="8" stroke-linecap="round"/>
<text class="it" transform="translate(1805.5,481.0) scale(1.2,1)" font-size="75.5">α</text>
<text transform="translate(1861.3,475.6) scale(1.1,0.82)" font-size="75.5">=</text>
<text transform="translate(1923.2,481.0) scale(0.955,1)" font-size="75.5">0.3</text>
<line x1="1620" y1="555.2" x2="1782" y2="555.2" stroke="#ff0000" stroke-width="8" stroke-linecap="round"/>
<text class="it" transform="translate(1805.5,579.4) scale(1.2,1)" font-size="75.5">α</text>
<text transform="translate(1861.3,574.0) scale(1.1,0.82)" font-size="75.5">=</text>
<text transform="translate(1923.2,579.4) scale(0.955,1)" font-size="75.5">1</text>
<line x1="1620" y1="653.6" x2="1782" y2="653.6" stroke="#c077e0" stroke-width="8" stroke-linecap="round"/>
<text class="it" transform="translate(1805.5,677.8) scale(1.2,1)" font-size="75.5">α</text>
<text transform="translate(1861.3,672.4) scale(1.1,0.82)" font-size="75.5">=</text>
<text transform="translate(1923.2,677.8) scale(0.955,1)" font-size="75.5">3</text>
<line x1="1620" y1="752.0" x2="1782" y2="752.0" stroke="#db9800" stroke-width="8" stroke-linecap="round"/>
<text class="it" transform="translate(1805.5,776.2) scale(1.2,1)" font-size="75.5">α</text>
<text transform="translate(1861.3,770.8) scale(1.1,0.82)" font-size="75.5">=</text>
<text transform="translate(1923.2,776.2) scale(0.955,1)" font-size="75.5">10</text>
<line x1="1620" y1="850.4" x2="1782" y2="850.4" stroke="#00cccc" stroke-width="8" stroke-linecap="round"/>
<text class="it" transform="translate(1805.5,874.6) scale(1.2,1)" font-size="75.5">α</text>
<text transform="translate(1861.3,869.2) scale(1.1,0.82)" font-size="75.5">=</text>
<text transform="translate(1923.2,874.6) scale(0.955,1)" font-size="75.5">50</text>
<text class="it" transform="translate(1655,974) scale(1.27,1)" font-size="75.5">β</text>
<text transform="translate(1728,968.2) scale(1.1,0.82)" font-size="75.5">=</text>
<text transform="translate(1790,974) scale(0.955,1)" font-size="75.5">50</text>
<text class="it" transform="translate(1659,1072.6) scale(1.3,1)" font-size="75.5">γ</text>
<text transform="translate(1718,1066.6) scale(1.1,0.82)" font-size="75.5">=</text>
<text transform="translate(1782,1072.6) scale(0.955,1)" font-size="75.5">1000</text>
<text class="it" transform="translate(1655,1169.7) scale(1.26,1)" font-size="75.5">ρ</text>
<text class="it" x="1694" y="1189.5" font-size="48">s</text>
<text transform="translate(1729,1164.2) scale(1.1,0.82)" font-size="75.5">=</text>
<text transform="translate(1790.5,1169.7) scale(0.955,1)" font-size="75.5">3</text>
</svg></body></html>
